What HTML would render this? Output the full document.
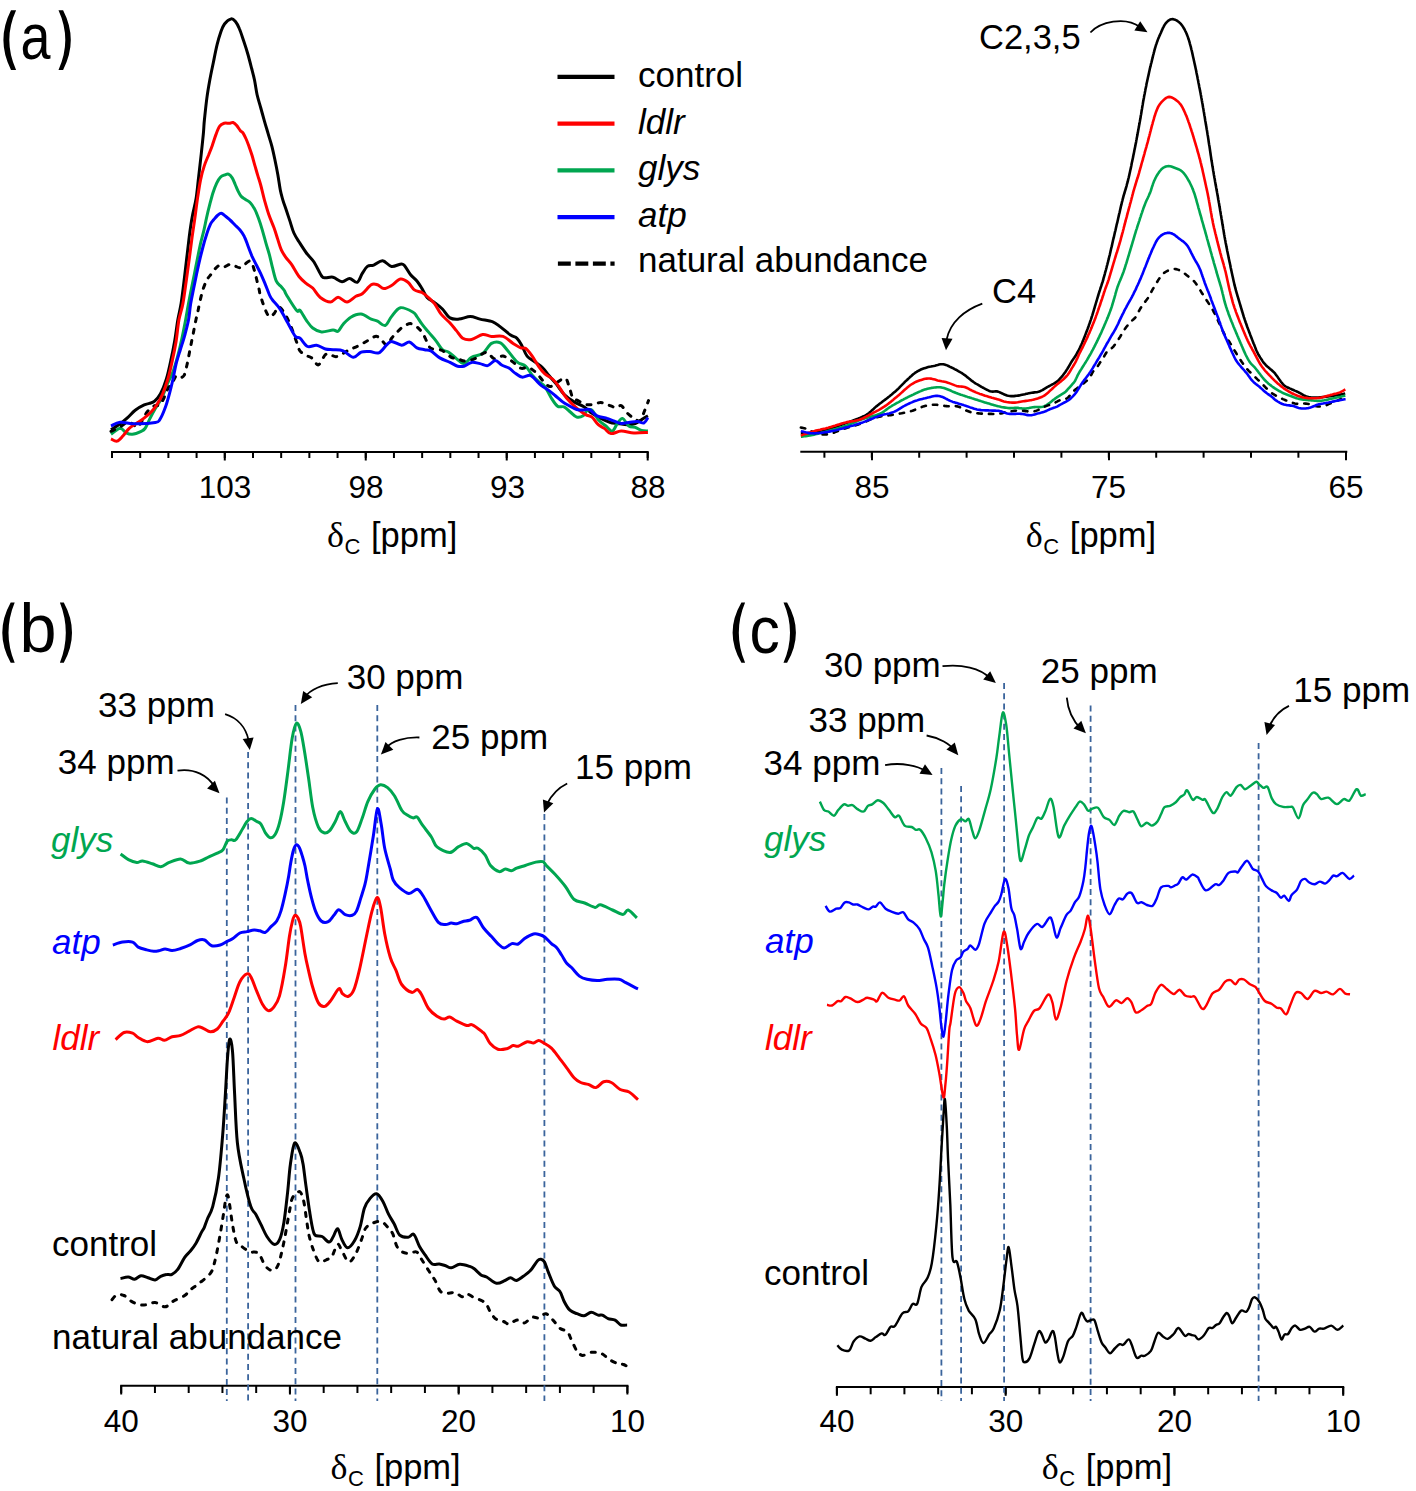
<!DOCTYPE html>
<html><head><meta charset="utf-8"><style>html,body{margin:0;padding:0;background:#fff;}svg{display:block;}</style></head>
<body><svg width="1416" height="1491" viewBox="0 0 1416 1491"><path d="M11,10.2 Q-4.20,40.05 11,69.9 L16.1,69.9 Q2.50,40.05 16.1,10.2 Z M58.5,10.2 Q72.10,40.05 58.5,69.9 L63.1,69.9 Q78.50,40.05 63.1,10.2 Z" fill="#000"/>
<text x="20.6" y="59" font-size="65.5" font-family='"Liberation Sans", sans-serif' text-anchor="start" fill="#000" textLength="30" lengthAdjust="spacingAndGlyphs">a</text>
<path d="M10.7,602.6 Q-6.10,632.70 10.7,662.8 L14.7,662.8 Q2.30,632.70 14.7,602.6 Z M59.9,602.6 Q71.70,632.70 59.9,662.8 L63.8,662.8 Q80.20,632.70 63.8,602.6 Z" fill="#000"/>
<text x="19.6" y="652.4" font-size="69" font-family='"Liberation Sans", sans-serif' text-anchor="start" fill="#000" textLength="37" lengthAdjust="spacingAndGlyphs">b</text>
<line x1="557.5" y1="76.8" x2="614.5" y2="76.8" stroke="#000000" stroke-width="4.3"/>
<text x="638" y="86.8" font-size="35" font-family='"Liberation Sans", sans-serif' text-anchor="start" fill="#000">control</text>
<line x1="557.5" y1="123.6" x2="614.5" y2="123.6" stroke="#ff0000" stroke-width="4.3"/>
<text x="638" y="133.6" font-size="35" font-family='"Liberation Sans", sans-serif' text-anchor="start" fill="#000" font-style="italic">ldlr</text>
<line x1="557.5" y1="170.4" x2="614.5" y2="170.4" stroke="#00a650" stroke-width="4.3"/>
<text x="638" y="180.39999999999998" font-size="35" font-family='"Liberation Sans", sans-serif' text-anchor="start" fill="#000" font-style="italic">glys</text>
<line x1="557.5" y1="217.2" x2="614.5" y2="217.2" stroke="#0000ff" stroke-width="4.3"/>
<text x="638" y="227.2" font-size="35" font-family='"Liberation Sans", sans-serif' text-anchor="start" fill="#000" font-style="italic">atp</text>
<line x1="557.9" y1="263.6" x2="614.6" y2="263.6" stroke="#000" stroke-width="4.3" stroke-dasharray="12.9,4.6"/>
<text x="638" y="272.40000000000003" font-size="35" font-family='"Liberation Sans", sans-serif' text-anchor="start" fill="#000">natural abundance</text>
<line x1="111" y1="452" x2="648.7" y2="452" stroke="#000" stroke-width="2"/>
<line x1="112.0" y1="452" x2="112.0" y2="458" stroke="#000" stroke-width="2"/>
<line x1="140.19473684210527" y1="452" x2="140.19473684210527" y2="458" stroke="#000" stroke-width="2"/>
<line x1="168.38947368421054" y1="452" x2="168.38947368421054" y2="458" stroke="#000" stroke-width="2"/>
<line x1="196.5842105263158" y1="452" x2="196.5842105263158" y2="458" stroke="#000" stroke-width="2"/>
<line x1="224.77894736842106" y1="452" x2="224.77894736842106" y2="458" stroke="#000" stroke-width="2"/>
<line x1="252.97368421052633" y1="452" x2="252.97368421052633" y2="458" stroke="#000" stroke-width="2"/>
<line x1="281.1684210526316" y1="452" x2="281.1684210526316" y2="458" stroke="#000" stroke-width="2"/>
<line x1="309.36315789473684" y1="452" x2="309.36315789473684" y2="458" stroke="#000" stroke-width="2"/>
<line x1="337.5578947368421" y1="452" x2="337.5578947368421" y2="458" stroke="#000" stroke-width="2"/>
<line x1="365.7526315789474" y1="452" x2="365.7526315789474" y2="458" stroke="#000" stroke-width="2"/>
<line x1="393.94736842105266" y1="452" x2="393.94736842105266" y2="458" stroke="#000" stroke-width="2"/>
<line x1="422.14210526315793" y1="452" x2="422.14210526315793" y2="458" stroke="#000" stroke-width="2"/>
<line x1="450.33684210526314" y1="452" x2="450.33684210526314" y2="458" stroke="#000" stroke-width="2"/>
<line x1="478.5315789473684" y1="452" x2="478.5315789473684" y2="458" stroke="#000" stroke-width="2"/>
<line x1="506.7263157894737" y1="452" x2="506.7263157894737" y2="458" stroke="#000" stroke-width="2"/>
<line x1="534.921052631579" y1="452" x2="534.921052631579" y2="458" stroke="#000" stroke-width="2"/>
<line x1="563.1157894736842" y1="452" x2="563.1157894736842" y2="458" stroke="#000" stroke-width="2"/>
<line x1="591.3105263157895" y1="452" x2="591.3105263157895" y2="458" stroke="#000" stroke-width="2"/>
<line x1="619.5052631578948" y1="452" x2="619.5052631578948" y2="458" stroke="#000" stroke-width="2"/>
<line x1="647.7" y1="452" x2="647.7" y2="458" stroke="#000" stroke-width="2"/>
<line x1="224.77894736842106" y1="452" x2="224.77894736842106" y2="460.5" stroke="#000" stroke-width="2"/>
<line x1="365.7526315789474" y1="452" x2="365.7526315789474" y2="460.5" stroke="#000" stroke-width="2"/>
<line x1="506.7263157894737" y1="452" x2="506.7263157894737" y2="460.5" stroke="#000" stroke-width="2"/>
<line x1="647.7" y1="452" x2="647.7" y2="460.5" stroke="#000" stroke-width="2"/>
<text x="225" y="498" font-size="31.5" font-family='"Liberation Sans", sans-serif' text-anchor="middle" fill="#000">103</text>
<text x="366" y="498" font-size="31.5" font-family='"Liberation Sans", sans-serif' text-anchor="middle" fill="#000">98</text>
<text x="507.5" y="498" font-size="31.5" font-family='"Liberation Sans", sans-serif' text-anchor="middle" fill="#000">93</text>
<text x="648" y="498" font-size="31.5" font-family='"Liberation Sans", sans-serif' text-anchor="middle" fill="#000">88</text>
<text x="327" y="546.6" font-size="36" font-family='"Liberation Serif", serif' fill="#000">&#948;</text>
<text x="344.5" y="553.6" font-size="22" font-family='"Liberation Sans", sans-serif' fill="#000">C</text>
<text x="371" y="546.6" font-size="34.5" font-family='"Liberation Sans", sans-serif' fill="#000">[ppm]</text>
<path d="M111.0,429.8 C112.5,428.8 117.3,425.8 120.1,423.8 C122.9,421.8 125.1,420.0 127.6,417.7 C130.1,415.4 132.4,412.3 135.2,410.2 C138.0,408.1 141.8,406.0 144.2,404.9 C146.6,403.8 147.7,404.0 149.4,403.4 C151.1,402.8 152.8,402.8 154.6,401.2 C156.4,399.6 158.5,397.5 160.5,393.8 C162.5,390.1 164.7,384.5 166.4,379.0 C168.1,373.5 169.5,366.8 170.8,360.6 C172.2,354.5 173.3,348.9 174.5,342.1 C175.7,335.3 176.7,326.4 177.8,320.0 C178.9,313.6 180.1,310.0 181.1,303.6 C182.1,297.2 183.1,288.8 184.0,281.4 C184.9,274.0 185.7,266.7 186.6,259.3 C187.5,251.9 188.3,244.2 189.2,237.1 C190.1,230.0 191.0,223.4 192.2,217.0 C193.3,210.6 195.0,205.4 196.1,198.6 C197.2,191.8 197.8,183.8 198.7,176.4 C199.5,169.0 200.4,161.7 201.2,154.3 C202.0,146.9 203.0,137.8 203.5,132.1 C204.0,126.4 203.8,125.6 204.4,120.0 C205.0,114.4 205.9,105.2 206.8,98.6 C207.7,91.9 208.7,86.2 209.8,80.1 C210.9,73.9 212.3,67.6 213.5,61.7 C214.7,55.8 215.9,49.6 217.1,44.7 C218.3,39.8 219.6,35.6 220.8,32.1 C222.0,28.7 222.8,26.2 224.5,24.0 C226.2,21.8 229.3,19.3 231.2,18.9 C233.0,18.5 234.2,20.2 235.6,21.8 C236.9,23.4 238.0,25.3 239.3,28.5 C240.7,31.7 242.2,36.6 243.7,41.0 C245.2,45.4 246.8,50.3 248.1,55.0 C249.4,59.7 250.7,64.8 251.8,69.0 C252.9,73.2 253.6,75.7 254.5,80.0 C255.4,84.3 256.1,90.1 257.1,94.8 C258.2,99.5 259.6,103.6 260.8,108.0 C262.0,112.4 263.3,117.0 264.5,121.3 C265.7,125.6 267.0,129.7 268.2,133.9 C269.4,138.1 270.8,142.1 271.9,146.4 C273.0,150.7 273.9,155.0 274.9,159.7 C275.9,164.4 276.9,169.4 277.8,174.5 C278.7,179.6 279.5,185.8 280.3,190.0 C281.1,194.2 281.8,196.3 282.8,199.8 C283.8,203.3 285.3,207.1 286.5,210.8 C287.7,214.5 289.0,218.2 290.2,221.9 C291.4,225.6 292.4,229.7 293.9,233.0 C295.4,236.3 296.9,238.5 299.0,241.8 C301.1,245.1 303.9,249.6 306.4,253.0 C308.9,256.4 311.5,258.2 314.0,262.0 C316.5,265.8 319.7,273.4 321.6,276.0 C323.5,278.6 323.5,277.6 325.4,277.8 C327.3,278.0 330.2,276.6 333.0,277.2 C335.8,277.8 339.2,281.5 342.0,281.7 C344.8,281.9 347.1,278.4 349.6,278.5 C352.1,278.6 355.1,283.2 357.2,282.3 C359.3,281.4 360.6,276.0 362.3,273.4 C364.0,270.8 365.5,267.8 367.4,266.4 C369.3,265.0 371.2,266.1 373.7,265.1 C376.2,264.2 379.6,260.5 382.6,260.7 C385.6,260.9 388.3,265.9 391.5,266.4 C394.7,266.9 399.4,263.8 401.7,263.9 C404.0,264.0 404.0,265.2 405.5,267.0 C407.0,268.8 408.7,272.4 410.6,274.7 C412.5,277.0 415.0,278.7 416.9,281.0 C418.8,283.3 420.3,285.9 422.0,288.6 C423.7,291.4 425.0,295.2 427.1,297.5 C429.2,299.8 432.1,300.7 434.7,302.6 C437.2,304.5 439.8,306.4 442.4,309.0 C444.9,311.6 447.2,316.2 450.0,317.9 C452.8,319.6 455.5,319.3 458.9,319.1 C462.3,318.9 466.8,316.6 470.3,316.6 C473.8,316.6 476.2,318.2 480.0,319.1 C483.8,320.0 489.4,320.5 492.8,321.8 C496.2,323.1 497.4,324.7 500.4,326.9 C503.4,329.1 507.8,333.2 510.6,335.1 C513.4,337.0 515.1,336.5 517.0,338.3 C518.9,340.1 520.3,342.9 522.0,345.9 C523.7,348.9 525.0,353.5 527.1,356.1 C529.2,358.8 532.2,359.9 534.7,361.8 C537.2,363.7 540.1,365.3 542.4,367.5 C544.7,369.7 546.4,372.4 548.7,375.2 C551.0,378.0 553.9,380.9 556.4,384.1 C558.9,387.3 561.0,391.2 564.0,394.2 C567.0,397.2 570.7,399.8 574.1,401.9 C577.5,404.0 581.3,405.0 584.3,406.9 C587.3,408.8 589.2,411.4 592.0,413.3 C594.8,415.2 597.8,416.9 600.8,418.4 C603.8,419.9 606.9,421.3 609.7,422.2 C612.5,423.1 614.4,423.1 617.4,423.5 C620.4,423.9 624.5,424.7 627.5,424.7 C630.5,424.7 632.9,424.3 635.2,423.5 C637.5,422.7 639.4,421.0 641.5,419.7 C643.6,418.4 646.8,416.4 647.9,415.8" fill="none" stroke="#000000" stroke-width="3.0" stroke-linejoin="round"/>
<path d="M111.0,434.3 C112.5,433.3 117.6,428.6 120.1,428.3 C122.6,428.1 124.1,431.8 126.1,432.8 C128.1,433.8 129.7,434.6 132.2,434.3 C134.7,434.1 139.1,432.3 141.2,431.3 C143.3,430.3 143.6,430.4 145.0,428.5 C146.4,426.6 147.7,422.9 149.4,419.6 C151.1,416.3 153.2,412.3 155.3,408.6 C157.4,404.9 159.9,401.8 162.0,397.5 C164.1,393.2 166.1,387.0 167.9,382.7 C169.7,378.4 171.4,376.0 173.0,371.7 C174.6,367.4 176.0,362.4 177.5,356.9 C179.0,351.4 180.6,344.6 181.9,338.5 C183.2,332.4 184.5,325.8 185.6,320.0 C186.7,314.2 187.5,308.8 188.5,303.6 C189.5,298.4 190.4,293.7 191.4,288.8 C192.4,283.9 193.4,278.9 194.4,274.0 C195.4,269.1 196.3,264.2 197.3,259.3 C198.3,254.4 199.2,249.4 200.3,244.5 C201.4,239.6 203.0,234.2 204.0,229.8 C205.0,225.4 205.6,222.0 206.5,218.0 C207.4,214.0 208.3,210.1 209.4,205.9 C210.5,201.7 211.8,196.5 213.0,192.7 C214.2,188.9 215.5,185.7 216.7,183.1 C217.9,180.5 219.0,178.6 220.4,177.2 C221.8,175.8 223.6,175.4 224.9,174.9 C226.2,174.4 227.3,173.7 228.5,174.2 C229.7,174.7 231.1,176.2 232.2,177.9 C233.3,179.6 234.2,182.3 235.2,184.5 C236.2,186.7 237.1,189.2 238.1,191.2 C239.1,193.2 239.9,194.9 241.1,196.3 C242.3,197.7 244.0,198.4 245.5,199.5 C247.0,200.6 248.8,201.0 250.3,202.7 C251.9,204.3 253.4,206.8 254.8,209.4 C256.2,212.0 257.3,214.9 258.5,218.2 C259.7,221.5 260.9,225.2 262.1,229.3 C263.3,233.4 264.6,238.3 265.8,242.6 C267.0,246.9 268.4,250.9 269.5,255.1 C270.6,259.3 271.4,263.4 272.5,267.7 C273.6,272.0 274.8,277.8 276.2,280.9 C277.6,284.0 279.2,284.5 280.6,286.1 C282.0,287.7 283.3,289.0 284.3,290.5 C285.3,292.0 284.4,291.6 286.5,295.0 C288.6,298.4 294.4,308.1 296.7,310.6 C298.9,313.2 298.4,308.7 300.0,310.3 C301.6,311.9 304.3,317.4 306.4,320.4 C308.5,323.3 310.2,326.1 312.7,328.0 C315.2,329.9 318.2,331.6 321.6,331.9 C325.0,332.2 330.2,330.1 333.0,330.0 C335.8,329.9 336.4,332.2 338.1,331.2 C339.8,330.2 341.1,326.5 343.2,324.2 C345.3,321.9 347.8,318.9 350.8,317.2 C353.8,315.5 357.6,313.8 361.0,314.1 C364.4,314.4 368.4,317.9 371.2,319.1 C373.9,320.3 375.2,320.0 377.5,321.1 C379.8,322.2 382.9,326.2 385.2,325.5 C387.5,324.8 389.0,319.6 391.5,316.6 C394.0,313.6 396.8,308.4 400.4,307.7 C404.0,307.0 410.4,310.7 413.1,312.2 C415.9,313.7 415.4,314.6 416.9,316.6 C418.4,318.6 420.1,321.6 422.0,324.2 C423.9,326.8 426.1,329.1 428.4,331.9 C430.7,334.7 433.7,337.8 436.0,340.8 C438.3,343.8 440.3,347.8 442.4,349.7 C444.5,351.6 446.4,350.7 448.7,352.2 C451.0,353.7 453.8,356.7 456.4,358.6 C458.9,360.5 461.5,363.8 464.0,363.6 C466.5,363.4 468.5,359.0 471.6,357.3 C474.7,355.6 479.3,355.9 482.6,353.6 C485.9,351.3 488.5,345.2 491.5,343.4 C494.5,341.6 497.6,341.5 500.4,342.8 C503.1,344.1 505.2,347.8 508.0,351.0 C510.8,354.2 514.0,359.2 517.0,361.8 C520.0,364.4 523.3,364.1 525.8,366.3 C528.3,368.5 530.1,372.7 532.2,375.2 C534.3,377.7 536.5,379.6 538.6,381.5 C540.7,383.4 542.8,383.9 544.9,386.6 C547.0,389.4 549.2,394.7 551.3,398.0 C553.4,401.3 555.5,404.8 557.6,406.3 C559.7,407.8 561.9,405.9 564.0,406.9 C566.1,407.8 568.2,410.3 570.3,412.0 C572.4,413.7 574.6,416.5 576.7,417.1 C578.8,417.7 581.4,416.9 583.1,415.8 C584.8,414.8 585.4,411.8 586.9,410.8 C588.4,409.9 590.1,408.6 592.0,410.1 C593.9,411.6 596.0,417.1 598.3,419.7 C600.6,422.3 603.6,424.1 605.9,426.0 C608.2,427.9 610.4,431.5 612.3,431.1 C614.2,430.7 615.7,425.6 617.4,423.5 C619.1,421.4 620.6,418.0 622.5,418.4 C624.4,418.8 626.7,424.5 628.8,426.0 C630.9,427.5 633.1,426.6 635.2,427.3 C637.3,428.1 639.4,429.9 641.5,430.5 C643.6,431.1 646.8,431.0 647.9,431.1" fill="none" stroke="#00a650" stroke-width="3.0" stroke-linejoin="round"/>
<path d="M111.0,431.3 C112.5,430.6 117.3,428.3 120.1,426.8 C122.9,425.3 125.4,422.8 127.6,422.3 C129.8,421.8 131.2,423.2 133.0,424.0 C134.8,424.8 135.8,428.9 138.2,426.8 C140.6,424.8 144.5,415.2 147.3,411.7 C150.1,408.2 152.7,406.8 154.8,405.7 C156.9,404.6 158.2,406.3 159.8,404.9 C161.4,403.5 162.8,400.2 164.2,397.5 C165.5,394.8 166.6,391.1 167.9,388.6 C169.2,386.1 171.0,384.8 172.3,382.7 C173.7,380.6 174.8,377.0 176.0,376.1 C177.2,375.2 178.3,377.7 179.7,377.6 C181.0,377.5 182.9,377.6 184.1,375.4 C185.3,373.2 186.2,368.0 187.1,364.3 C188.0,360.6 188.6,356.9 189.3,353.2 C190.0,349.5 190.8,345.8 191.5,342.1 C192.2,338.4 193.0,334.8 193.7,331.1 C194.4,327.4 195.2,323.4 195.9,320.0 C196.6,316.6 197.3,314.2 198.0,310.9 C198.7,307.5 199.4,303.6 200.3,299.9 C201.2,296.2 202.1,292.1 203.2,288.8 C204.3,285.5 205.6,282.4 206.9,279.9 C208.2,277.4 209.8,276.0 211.3,274.0 C212.8,272.0 214.3,269.6 215.8,268.1 C217.3,266.6 218.7,265.4 220.2,265.2 C221.7,265.0 223.0,266.8 224.6,266.7 C226.2,266.6 228.3,264.5 230.0,264.4 C231.7,264.3 233.3,265.4 235.0,266.0 C236.7,266.6 238.4,267.9 240.0,267.7 C241.6,267.5 242.8,265.8 244.4,264.7 C246.0,263.6 248.2,261.0 249.6,261.0 C250.9,261.0 251.6,262.8 252.5,264.7 C253.4,266.6 254.1,269.4 254.8,272.1 C255.6,274.8 256.3,277.9 257.0,280.9 C257.7,283.8 258.6,287.4 259.2,289.8 C259.8,292.2 259.3,291.8 260.3,295.0 C261.3,298.2 263.5,305.5 265.0,309.1 C266.5,312.7 268.0,315.9 269.5,316.6 C271.0,317.4 272.6,315.2 274.1,313.6 C275.6,312.0 276.9,306.8 278.6,306.8 C280.4,306.8 282.6,310.5 284.6,313.6 C286.6,316.8 288.7,320.9 290.7,325.7 C292.7,330.5 295.1,338.1 296.7,342.3 C298.2,346.5 298.4,348.7 300.0,350.9 C301.6,353.1 304.3,354.1 306.4,355.4 C308.5,356.7 310.7,357.0 312.7,358.6 C314.7,360.2 316.3,365.5 318.4,364.9 C320.5,364.2 323.4,356.4 325.4,354.7 C327.4,353.0 328.6,354.4 330.5,354.7 C332.4,355.0 333.9,357.3 336.9,356.6 C339.9,355.9 344.7,352.1 348.3,350.3 C351.9,348.5 355.1,347.5 358.5,345.8 C361.9,344.1 365.6,341.7 368.6,340.1 C371.6,338.5 374.1,336.2 376.3,336.3 C378.6,336.4 380.3,339.4 382.1,340.9 C383.9,342.3 385.4,345.5 387.0,345.0 C388.6,344.5 390.2,340.1 391.8,338.0 C393.4,335.9 394.9,334.3 396.8,332.4 C398.7,330.5 400.7,328.3 403.0,326.8 C405.3,325.3 408.1,323.4 410.6,323.6 C413.1,323.8 416.1,326.2 418.2,328.0 C420.3,329.8 421.8,332.1 423.3,334.4 C424.8,336.7 425.8,339.7 427.1,342.0 C428.4,344.3 428.8,347.1 430.9,348.4 C433.0,349.7 437.5,349.1 439.8,349.7 C442.1,350.3 443.0,350.9 444.9,352.2 C446.8,353.5 449.2,356.2 451.3,357.3 C453.4,358.4 455.3,358.0 457.6,358.6 C459.9,359.2 462.3,361.1 465.2,361.1 C468.1,361.1 471.5,360.1 475.0,358.6 C478.5,357.1 483.2,352.3 486.4,352.3 C489.6,352.3 491.3,358.0 494.1,358.6 C496.9,359.2 500.0,355.7 503.0,356.1 C506.0,356.5 508.9,359.2 511.9,361.2 C514.9,363.2 518.0,367.1 520.8,368.2 C523.5,369.2 525.9,366.8 528.4,367.5 C530.9,368.2 533.5,370.3 536.0,372.6 C538.5,374.9 541.3,379.2 543.6,381.5 C545.9,383.8 547.9,386.4 550.0,386.6 C552.1,386.8 553.9,384.2 556.4,382.8 C558.9,381.4 563.1,377.7 565.2,378.3 C567.3,378.9 567.8,383.3 569.1,386.6 C570.4,389.9 571.4,395.7 572.9,398.0 C574.4,400.3 575.9,399.5 578.0,400.6 C580.1,401.7 583.1,403.8 585.6,404.4 C588.1,405.0 590.7,404.7 593.2,404.4 C595.7,404.1 598.2,402.4 600.8,402.5 C603.3,402.6 606.0,404.1 608.5,405.0 C611.0,405.9 614.0,407.5 616.1,407.6 C618.2,407.7 619.3,404.8 621.2,405.7 C623.1,406.6 625.4,411.2 627.5,413.3 C629.6,415.4 631.8,417.1 633.9,418.4 C636.0,419.7 638.5,422.0 640.2,420.9 C641.9,419.8 642.7,415.4 644.1,412.0 C645.5,408.6 647.8,402.5 648.5,400.6" fill="none" stroke="#000000" stroke-width="3.0" stroke-linejoin="round" stroke-dasharray="4.00,7.50" stroke-linecap="round"/>
<path d="M111.0,438.9 C112.0,439.3 115.1,441.6 117.1,441.1 C119.1,440.6 121.1,437.9 123.1,435.8 C125.1,433.7 126.7,430.6 129.2,428.3 C131.7,426.1 135.6,424.1 138.2,422.3 C140.8,420.5 142.9,419.1 145.0,417.4 C147.1,415.7 148.9,414.4 150.9,412.3 C152.9,410.2 154.8,408.0 156.8,404.9 C158.8,401.8 160.8,398.1 162.7,393.8 C164.5,389.5 166.3,384.5 167.9,379.0 C169.5,373.5 171.0,366.8 172.3,360.6 C173.7,354.5 174.9,348.9 176.0,342.1 C177.1,335.3 177.8,326.4 178.9,320.0 C180.1,313.6 181.7,310.0 182.9,303.6 C184.1,297.2 185.1,288.8 186.2,281.4 C187.2,274.0 188.2,266.7 189.2,259.3 C190.2,251.9 191.2,243.7 192.1,237.1 C193.0,230.5 193.7,226.4 194.6,220.0 C195.5,213.6 196.5,205.2 197.5,198.6 C198.5,191.9 199.4,185.5 200.5,180.1 C201.6,174.7 202.8,170.3 204.2,166.1 C205.5,161.9 207.2,158.4 208.6,155.0 C209.9,151.6 211.1,148.8 212.3,145.4 C213.5,142.0 214.8,137.6 216.0,134.4 C217.2,131.2 218.3,128.1 219.7,126.2 C221.0,124.3 222.5,123.8 224.1,123.3 C225.7,122.8 227.8,123.4 229.3,123.3 C230.8,123.2 231.8,122.1 233.0,122.5 C234.2,122.9 235.5,124.1 236.7,125.5 C237.9,126.9 239.3,129.4 240.4,130.7 C241.5,132.0 242.2,131.7 243.1,133.1 C244.0,134.5 245.1,136.8 246.1,139.0 C247.1,141.2 248.0,143.7 249.0,146.4 C250.0,149.1 251.0,152.1 252.0,155.3 C253.0,158.5 253.9,162.2 254.9,165.6 C255.9,169.0 256.9,172.7 257.9,175.9 C258.9,179.1 259.6,181.0 260.7,185.0 C261.8,189.0 263.0,194.9 264.4,199.8 C265.8,204.7 267.2,209.8 268.8,214.5 C270.4,219.2 272.5,223.7 274.0,227.8 C275.5,231.9 276.4,235.2 277.6,238.9 C278.8,242.6 279.9,246.8 281.3,249.9 C282.7,253.0 284.1,254.8 285.8,257.3 C287.5,259.8 289.5,261.5 291.7,264.7 C293.9,267.9 296.6,273.4 299.0,276.5 C301.4,279.6 304.1,281.7 306.4,283.6 C308.7,285.5 310.4,285.7 312.7,288.0 C315.0,290.3 317.3,295.2 320.3,297.5 C323.3,299.8 327.5,302.0 330.5,302.0 C333.5,302.0 335.4,297.3 338.1,297.3 C340.9,297.3 344.0,302.2 347.0,302.0 C350.0,301.8 353.3,297.7 355.9,296.3 C358.4,294.9 359.8,295.6 362.3,293.7 C364.9,291.8 368.7,286.3 371.2,284.8 C373.7,283.3 375.4,284.2 377.5,284.8 C379.6,285.4 381.6,288.5 383.9,288.6 C386.2,288.7 388.8,287.1 391.5,285.5 C394.2,283.9 397.6,279.6 400.4,279.1 C403.1,278.6 405.7,280.5 408.0,282.3 C410.3,284.1 412.1,288.2 414.4,289.9 C416.7,291.6 419.7,291.2 422.0,292.5 C424.3,293.8 426.3,295.6 428.4,297.5 C430.5,299.4 432.6,301.1 434.7,303.9 C436.8,306.7 438.6,310.9 441.1,314.1 C443.7,317.3 447.4,320.2 450.0,323.0 C452.6,325.8 454.3,328.1 456.4,330.6 C458.5,333.1 460.2,336.7 462.7,338.2 C465.2,339.7 468.3,340.1 471.6,339.5 C474.9,338.9 479.3,335.0 482.6,334.5 C485.9,334.0 488.1,336.1 491.5,336.4 C494.9,336.7 499.4,335.2 503.0,336.4 C506.6,337.6 510.1,341.5 513.1,343.4 C516.1,345.3 518.7,346.9 520.8,347.8 C522.9,348.7 523.9,347.1 525.8,348.5 C527.7,349.9 530.1,353.1 532.2,356.1 C534.3,359.1 536.5,363.3 538.6,366.3 C540.7,369.3 542.6,371.8 544.9,373.9 C547.2,376.0 550.2,376.9 552.5,379.0 C554.8,381.1 556.6,383.4 558.9,386.6 C561.2,389.8 563.5,394.4 566.5,398.0 C569.5,401.6 573.5,405.4 576.7,408.2 C579.9,411.0 583.1,413.1 585.6,414.6 C588.1,416.1 589.9,415.4 592.0,417.1 C594.1,418.8 596.2,422.8 598.3,424.7 C600.4,426.6 602.6,427.1 604.7,428.6 C606.8,430.1 608.2,433.2 611.0,433.6 C613.8,434.0 617.4,431.2 621.2,431.1 C625.0,431.0 629.5,432.8 633.9,433.0 C638.3,433.2 645.6,432.5 647.9,432.4" fill="none" stroke="#ff0000" stroke-width="3.0" stroke-linejoin="round"/>
<path d="M111.0,426.0 C112.5,425.4 116.1,422.7 120.1,422.3 C124.1,421.9 129.3,423.8 135.2,423.8 C141.1,423.9 151.2,423.3 155.3,422.6 C159.4,421.9 158.2,421.9 159.8,419.6 C161.4,417.3 163.3,412.9 164.9,408.6 C166.5,404.3 168.1,398.7 169.4,393.8 C170.8,388.9 171.9,383.9 173.0,379.0 C174.1,374.1 174.8,369.2 176.0,364.3 C177.2,359.4 178.9,354.4 180.4,349.5 C181.9,344.6 183.6,339.7 184.9,334.8 C186.2,329.9 187.5,325.2 188.5,320.0 C189.5,314.8 189.8,308.8 190.7,303.6 C191.5,298.4 192.6,293.7 193.6,288.8 C194.6,283.9 195.6,278.7 196.6,274.0 C197.6,269.3 198.4,265.5 199.5,260.8 C200.6,256.1 202.0,250.6 203.2,246.0 C204.4,241.4 205.7,237.2 206.9,233.5 C208.1,229.8 209.5,226.2 210.6,223.9 C211.7,221.6 212.4,221.2 213.6,219.8 C214.8,218.4 216.2,216.6 217.5,215.5 C218.8,214.4 219.8,213.2 221.2,213.3 C222.5,213.4 224.1,215.2 225.6,216.3 C227.1,217.4 228.4,218.6 230.0,220.0 C231.6,221.4 233.3,223.3 235.0,225.0 C236.7,226.7 238.4,228.1 240.0,230.0 C241.6,231.9 243.1,234.0 244.4,236.7 C245.8,239.4 246.9,243.1 248.1,246.3 C249.3,249.5 250.5,252.7 251.8,255.8 C253.2,258.9 254.7,261.7 256.2,264.7 C257.7,267.7 259.2,270.4 260.7,273.6 C262.2,276.8 263.6,280.3 265.1,283.9 C266.6,287.5 268.3,292.3 269.5,295.0 C270.7,297.7 270.7,297.6 272.5,300.0 C274.3,302.4 277.6,305.3 280.1,309.1 C282.6,312.9 285.1,318.1 287.6,322.6 C290.1,327.1 293.1,333.6 295.2,336.2 C297.3,338.8 297.9,336.5 300.0,338.2 C302.1,339.9 304.9,345.3 307.6,346.5 C310.4,347.7 313.5,344.8 316.5,345.2 C319.5,345.6 322.6,348.2 325.4,349.0 C328.1,349.8 330.0,349.4 333.0,349.7 C336.0,350.0 339.8,349.6 343.2,350.9 C346.6,352.2 350.4,357.1 353.4,357.3 C356.4,357.5 358.2,353.1 361.0,352.2 C363.8,351.2 366.9,351.5 369.9,351.6 C372.9,351.7 376.1,353.9 378.8,352.8 C381.6,351.7 384.3,347.1 386.4,345.2 C388.5,343.3 388.9,341.4 391.5,341.4 C394.1,341.4 398.7,345.1 401.7,345.2 C404.7,345.3 406.8,341.6 409.3,342.0 C411.8,342.4 414.3,346.5 416.9,347.8 C419.4,349.1 422.3,349.2 424.6,349.7 C426.9,350.2 428.4,349.5 430.9,350.9 C433.4,352.3 436.6,356.0 439.8,357.9 C443.0,359.8 447.0,361.0 450.0,362.4 C453.0,363.8 455.3,365.6 457.6,366.2 C459.9,366.8 461.7,366.8 464.0,366.2 C466.3,365.6 468.9,362.8 471.6,362.4 C474.3,362.0 477.3,363.1 480.0,363.6 C482.7,364.1 485.1,366.1 487.7,365.6 C490.2,365.1 493.0,360.6 495.3,360.5 C497.6,360.4 499.4,363.7 501.7,365.0 C504.0,366.3 507.2,366.9 509.3,368.2 C511.4,369.5 512.3,371.1 514.4,372.6 C516.5,374.1 519.5,376.7 522.0,377.1 C524.5,377.5 527.6,374.9 529.7,375.2 C531.8,375.5 532.8,377.3 534.7,379.0 C536.6,380.7 538.8,383.4 541.1,385.3 C543.4,387.2 546.4,388.7 548.7,390.4 C551.0,392.1 552.8,393.6 555.1,395.5 C557.4,397.4 560.4,400.2 562.7,401.9 C565.0,403.6 566.8,404.4 569.1,405.7 C571.4,407.0 574.4,408.8 576.7,409.5 C579.0,410.2 581.0,410.1 583.1,410.1 C585.2,410.1 587.1,408.6 589.4,409.5 C591.7,410.4 594.0,414.3 597.0,415.8 C600.0,417.3 604.4,417.5 607.2,418.4 C610.0,419.2 611.3,420.0 613.6,420.9 C615.9,421.8 618.5,423.3 621.2,423.5 C624.0,423.7 627.4,422.5 630.1,422.2 C632.9,421.9 635.4,421.5 637.7,421.6 C640.0,421.7 642.4,423.5 644.1,422.8 C645.8,422.1 647.3,418.6 647.9,417.7" fill="none" stroke="#0000ff" stroke-width="3.0" stroke-linejoin="round"/>
<line x1="800.3" y1="451.7" x2="1347.3" y2="451.7" stroke="#000" stroke-width="2"/>
<line x1="824.4" y1="451.7" x2="824.4" y2="457.7" stroke="#000" stroke-width="2"/>
<line x1="871.8" y1="451.7" x2="871.8" y2="457.7" stroke="#000" stroke-width="2"/>
<line x1="919.1999999999999" y1="451.7" x2="919.1999999999999" y2="457.7" stroke="#000" stroke-width="2"/>
<line x1="966.5999999999999" y1="451.7" x2="966.5999999999999" y2="457.7" stroke="#000" stroke-width="2"/>
<line x1="1014.0" y1="451.7" x2="1014.0" y2="457.7" stroke="#000" stroke-width="2"/>
<line x1="1061.4" y1="451.7" x2="1061.4" y2="457.7" stroke="#000" stroke-width="2"/>
<line x1="1108.8" y1="451.7" x2="1108.8" y2="457.7" stroke="#000" stroke-width="2"/>
<line x1="1156.2" y1="451.7" x2="1156.2" y2="457.7" stroke="#000" stroke-width="2"/>
<line x1="1203.6" y1="451.7" x2="1203.6" y2="457.7" stroke="#000" stroke-width="2"/>
<line x1="1251.0" y1="451.7" x2="1251.0" y2="457.7" stroke="#000" stroke-width="2"/>
<line x1="1298.4" y1="451.7" x2="1298.4" y2="457.7" stroke="#000" stroke-width="2"/>
<line x1="872" y1="451.7" x2="872" y2="460.2" stroke="#000" stroke-width="2"/>
<line x1="1109.0" y1="451.7" x2="1109.0" y2="460.2" stroke="#000" stroke-width="2"/>
<line x1="1346.0" y1="451.7" x2="1346.0" y2="460.2" stroke="#000" stroke-width="2"/>
<text x="872" y="498" font-size="31.5" font-family='"Liberation Sans", sans-serif' text-anchor="middle" fill="#000">85</text>
<text x="1108.5" y="498" font-size="31.5" font-family='"Liberation Sans", sans-serif' text-anchor="middle" fill="#000">75</text>
<text x="1346" y="498" font-size="31.5" font-family='"Liberation Sans", sans-serif' text-anchor="middle" fill="#000">65</text>
<text x="1025.8" y="546.6" font-size="36" font-family='"Liberation Serif", serif' fill="#000">&#948;</text>
<text x="1043.3" y="553.6" font-size="22" font-family='"Liberation Sans", sans-serif' fill="#000">C</text>
<text x="1069.8" y="546.6" font-size="34.5" font-family='"Liberation Sans", sans-serif' fill="#000">[ppm]</text>
<text x="979" y="48.7" font-size="34.5" font-family='"Liberation Sans", sans-serif' text-anchor="start" fill="#000">C2,3,5</text>
<text x="992" y="303.2" font-size="34.5" font-family='"Liberation Sans", sans-serif' text-anchor="start" fill="#000">C4</text>
<path d="M1090.4,32.5 C1100,22 1125,16 1140,27" fill="none" stroke="#000" stroke-width="1.8"/>
<path d="M1147.5,32.3 L1134.4,30.6 L1140.2,21.3 Z" fill="#000"/>
<path d="M982.3,303.7 C965,310 950,322 946.5,340" fill="none" stroke="#000" stroke-width="1.8"/>
<path d="M946.0,350.3 L941.6,337.9 L952.5,338.8 Z" fill="#000"/>
<path d="M800.9,432.6 L801.8,432.7 L802.9,432.9 L804.3,433.1 L805.6,433.2 L807.0,433.4 L808.4,433.4 L809.8,433.5 L811.2,433.4 L812.6,433.3 L814.0,433.1 L815.4,432.8 L816.7,432.5 L818.1,432.2 L819.5,431.9 L820.8,431.5 L822.2,431.2 L823.5,430.8 L824.9,430.4 L826.2,430.0 L827.6,429.6 L828.9,429.2 L830.2,428.8 L831.6,428.3 L832.9,427.9 L834.2,427.4 L835.5,427.0 L836.8,426.5 L838.2,426.0 L839.5,425.5 L840.8,425.1 L842.1,424.6 L843.4,424.1 L844.7,423.6 L846.0,423.1 L847.4,422.6 L848.7,422.2 L850.0,421.7 L851.3,421.2 L852.6,420.7 L853.9,420.2 L855.2,419.7 L856.5,419.2 L857.9,418.7 L859.1,418.2 L860.4,417.7 L861.7,417.1 L863.0,416.5 L864.3,415.9 L865.5,415.3 L866.7,414.6 L867.9,413.8 L869.0,413.0 L870.1,412.1 L871.1,411.2 L872.1,410.2 L873.2,409.3 L874.2,408.3 L875.2,407.4 L876.3,406.4 L877.4,405.6 L878.5,404.7 L879.6,403.8 L880.7,403.0 L881.8,402.2 L882.9,401.3 L884.0,400.5 L885.2,399.6 L886.3,398.8 L887.4,397.9 L888.5,397.0 L889.6,396.2 L890.7,395.3 L891.8,394.4 L892.8,393.5 L893.9,392.6 L895.0,391.7 L896.0,390.8 L897.0,389.8 L898.1,388.9 L899.1,387.9 L900.0,386.9 L901.0,385.9 L902.0,384.9 L903.0,383.9 L904.0,382.9 L904.9,381.9 L905.9,380.9 L907.0,380.0 L908.0,379.0 L909.0,378.1 L910.0,377.1 L911.1,376.2 L912.1,375.3 L913.2,374.3 L914.3,373.5 L915.4,372.6 L916.6,371.9 L917.8,371.1 L919.0,370.5 L920.3,369.8 L921.5,369.3 L922.8,368.8 L924.2,368.3 L925.5,367.9 L926.8,367.5 L928.2,367.1 L929.5,366.7 L930.9,366.5 L932.3,366.2 L933.6,366.0 L935.0,365.7 L936.4,365.3 L937.7,365.0 L939.1,364.6 L940.4,364.3 L941.8,364.2 L943.1,364.2 L944.5,364.5 L945.8,364.9 L947.1,365.4 L948.4,366.0 L949.6,366.6 L950.9,367.2 L952.1,367.8 L953.4,368.4 L954.6,369.1 L955.9,369.7 L957.1,370.4 L958.3,371.1 L959.6,371.8 L960.8,372.5 L961.9,373.2 L963.1,374.0 L964.3,374.8 L965.4,375.6 L966.5,376.5 L967.6,377.4 L968.7,378.2 L969.7,379.1 L970.8,380.0 L971.9,380.9 L973.1,381.7 L974.2,382.5 L975.4,383.3 L976.6,384.0 L977.8,384.7 L979.0,385.4 L980.2,386.1 L981.4,386.8 L982.6,387.5 L983.9,388.2 L985.1,388.8 L986.3,389.5 L987.6,390.1 L988.8,390.7 L990.1,391.2 L991.4,391.5 L992.8,391.6 L994.1,391.5 L995.4,391.4 L996.7,391.4 L998.0,391.6 L999.3,392.1 L1000.6,392.7 L1001.8,393.3 L1003.1,393.9 L1004.4,394.5 L1005.7,395.0 L1007.0,395.5 L1008.3,395.8 L1009.7,396.0 L1011.1,396.1 L1012.5,396.1 L1013.9,396.1 L1015.3,395.9 L1016.7,395.8 L1018.1,395.6 L1019.4,395.4 L1020.8,395.1 L1022.2,394.8 L1023.5,394.5 L1024.9,394.2 L1026.3,393.8 L1027.6,393.6 L1029.0,393.3 L1030.4,393.0 L1031.8,392.8 L1033.1,392.6 L1034.5,392.4 L1035.9,392.3 L1037.3,392.1 L1038.6,391.8 L1040.0,391.3 L1041.2,390.7 L1042.4,390.1 L1043.6,389.3 L1044.8,388.6 L1046.0,387.9 L1047.2,387.2 L1048.4,386.5 L1049.7,385.8 L1050.9,385.2 L1052.1,384.5 L1053.4,383.9 L1054.6,383.2 L1055.8,382.4 L1056.9,381.6 L1058.0,380.7 L1059.0,379.8 L1059.9,378.7 L1060.9,377.7 L1061.8,376.6 L1062.7,375.6 L1063.5,374.5 L1064.4,373.3 L1065.2,372.2 L1066.0,371.0 L1066.7,369.9 L1067.5,368.7 L1068.2,367.5 L1068.9,366.3 L1069.6,365.1 L1070.3,363.9 L1071.0,362.7 L1071.7,361.5 L1072.5,360.3 L1073.3,359.1 L1074.1,358.0 L1074.9,356.8 L1075.6,355.7 L1076.4,354.5 L1077.0,353.2 L1077.7,352.0 L1078.3,350.8 L1079.0,349.5 L1079.6,348.3 L1080.2,347.0 L1080.8,345.7 L1081.4,344.5 L1082.0,343.2 L1082.5,341.9 L1083.1,340.6 L1083.6,339.3 L1084.1,338.0 L1084.6,336.7 L1085.1,335.4 L1085.6,334.1 L1086.1,332.8 L1086.6,331.5 L1087.1,330.2 L1087.6,328.9 L1088.1,327.5 L1088.6,326.2 L1089.0,324.9 L1089.5,323.6 L1090.0,322.3 L1090.4,320.9 L1090.9,319.6 L1091.3,318.3 L1091.7,317.0 L1092.2,315.6 L1092.6,314.3 L1093.0,312.9 L1093.4,311.6 L1093.8,310.3 L1094.2,308.9 L1094.6,307.6 L1095.0,306.2 L1095.4,304.9 L1095.8,303.5 L1096.2,302.2 L1096.6,300.9 L1097.0,299.5 L1097.4,298.2 L1097.8,296.8 L1098.2,295.5 L1098.6,294.2 L1099.0,292.8 L1099.4,291.5 L1099.9,290.2 L1100.3,288.8 L1100.7,287.5 L1101.2,286.2 L1101.6,284.8 L1102.0,283.5 L1102.5,282.2 L1102.9,280.8 L1103.3,279.5 L1103.6,278.1 L1104.0,276.8 L1104.4,275.4 L1104.8,274.1 L1105.1,272.7 L1105.5,271.4 L1105.9,270.0 L1106.2,268.7 L1106.6,267.3 L1106.9,266.0 L1107.3,264.6 L1107.6,263.3 L1108.0,261.9 L1108.3,260.6 L1108.7,259.2 L1109.0,257.8 L1109.3,256.5 L1109.7,255.1 L1110.0,253.8 L1110.3,252.4 L1110.6,251.0 L1110.9,249.7 L1111.2,248.3 L1111.6,246.9 L1111.9,245.6 L1112.2,244.2 L1112.5,242.8 L1112.8,241.5 L1113.1,240.1 L1113.4,238.8 L1113.8,237.4 L1114.1,236.0 L1114.4,234.7 L1114.7,233.3 L1115.0,231.9 L1115.4,230.6 L1115.7,229.2 L1116.0,227.8 L1116.3,226.5 L1116.6,225.1 L1116.9,223.8 L1117.3,222.4 L1117.6,221.0 L1117.9,219.7 L1118.2,218.3 L1118.5,216.9 L1118.8,215.6 L1119.1,214.2 L1119.5,212.8 L1119.8,211.5 L1120.1,210.1 L1120.4,208.7 L1120.7,207.4 L1121.0,206.0 L1121.4,204.7 L1121.7,203.3 L1122.0,201.9 L1122.4,200.6 L1122.7,199.2 L1123.1,197.9 L1123.4,196.5 L1123.8,195.2 L1124.2,193.8 L1124.6,192.5 L1125.0,191.1 L1125.4,189.8 L1125.8,188.5 L1126.2,187.1 L1126.6,185.8 L1126.9,184.4 L1127.3,183.1 L1127.7,181.7 L1128.0,180.4 L1128.3,179.0 L1128.7,177.6 L1129.0,176.3 L1129.3,174.9 L1129.6,173.5 L1129.9,172.2 L1130.2,170.8 L1130.5,169.4 L1130.8,168.1 L1131.1,166.7 L1131.4,165.3 L1131.6,164.0 L1131.9,162.6 L1132.2,161.2 L1132.5,159.8 L1132.8,158.5 L1133.1,157.1 L1133.3,155.7 L1133.6,154.4 L1133.9,153.0 L1134.2,151.6 L1134.4,150.2 L1134.7,148.9 L1135.0,147.5 L1135.3,146.1 L1135.5,144.7 L1135.8,143.4 L1136.1,142.0 L1136.3,140.6 L1136.6,139.2 L1136.8,137.9 L1137.1,136.5 L1137.4,135.1 L1137.6,133.7 L1137.9,132.4 L1138.1,131.0 L1138.4,129.6 L1138.6,128.2 L1138.9,126.9 L1139.1,125.5 L1139.4,124.1 L1139.6,122.7 L1139.9,121.3 L1140.1,120.0 L1140.4,118.6 L1140.6,117.2 L1140.8,115.8 L1141.1,114.4 L1141.3,113.1 L1141.5,111.7 L1141.7,110.3 L1142.0,108.9 L1142.2,107.5 L1142.4,106.2 L1142.7,104.8 L1142.9,103.4 L1143.1,102.0 L1143.4,100.6 L1143.6,99.3 L1143.9,97.9 L1144.1,96.5 L1144.4,95.1 L1144.7,93.8 L1144.9,92.4 L1145.2,91.0 L1145.4,89.6 L1145.7,88.3 L1146.0,86.9 L1146.3,85.5 L1146.5,84.1 L1146.8,82.8 L1147.1,81.4 L1147.4,80.0 L1147.7,78.7 L1148.0,77.3 L1148.3,75.9 L1148.6,74.6 L1148.9,73.2 L1149.2,71.8 L1149.5,70.5 L1149.8,69.1 L1150.1,67.7 L1150.5,66.4 L1150.8,65.0 L1151.1,63.6 L1151.5,62.3 L1151.8,60.9 L1152.1,59.6 L1152.5,58.2 L1152.8,56.9 L1153.1,55.5 L1153.5,54.1 L1153.8,52.8 L1154.2,51.4 L1154.5,50.1 L1154.9,48.7 L1155.3,47.4 L1155.7,46.0 L1156.1,44.7 L1156.6,43.4 L1157.0,42.1 L1157.5,40.7 L1158.0,39.4 L1158.5,38.1 L1159.1,36.8 L1159.6,35.6 L1160.2,34.3 L1160.8,33.0 L1161.3,31.7 L1161.9,30.4 L1162.4,29.2 L1163.0,27.9 L1163.7,26.6 L1164.3,25.4 L1165.1,24.2 L1165.9,23.1 L1166.8,22.1 L1167.8,21.1 L1168.9,20.3 L1170.1,19.6 L1171.4,19.2 L1172.7,19.1 L1174.0,19.4 L1175.3,19.8 L1176.5,20.4 L1177.7,21.2 L1178.8,22.0 L1179.8,22.9 L1180.8,23.9 L1181.7,25.0 L1182.5,26.1 L1183.3,27.3 L1184.0,28.5 L1184.7,29.7 L1185.3,31.0 L1185.9,32.2 L1186.5,33.5 L1187.0,34.8 L1187.5,36.1 L1188.0,37.4 L1188.4,38.8 L1188.9,40.1 L1189.3,41.4 L1189.7,42.8 L1190.0,44.1 L1190.4,45.5 L1190.8,46.8 L1191.1,48.2 L1191.4,49.5 L1191.8,50.9 L1192.1,52.3 L1192.4,53.6 L1192.7,55.0 L1193.0,56.4 L1193.3,57.7 L1193.6,59.1 L1193.9,60.5 L1194.2,61.8 L1194.5,63.2 L1194.8,64.6 L1195.1,65.9 L1195.4,67.3 L1195.7,68.7 L1196.0,70.0 L1196.3,71.4 L1196.5,72.8 L1196.8,74.2 L1197.1,75.5 L1197.4,76.9 L1197.6,78.3 L1197.9,79.7 L1198.2,81.0 L1198.4,82.4 L1198.7,83.8 L1199.0,85.1 L1199.2,86.5 L1199.5,87.9 L1199.8,89.3 L1200.0,90.6 L1200.3,92.0 L1200.6,93.4 L1200.8,94.8 L1201.1,96.1 L1201.3,97.5 L1201.6,98.9 L1201.8,100.3 L1202.1,101.7 L1202.3,103.0 L1202.6,104.4 L1202.8,105.8 L1203.0,107.2 L1203.3,108.6 L1203.5,109.9 L1203.7,111.3 L1204.0,112.7 L1204.2,114.1 L1204.4,115.5 L1204.7,116.8 L1204.9,118.2 L1205.1,119.6 L1205.3,121.0 L1205.6,122.4 L1205.8,123.7 L1206.0,125.1 L1206.3,126.5 L1206.5,127.9 L1206.7,129.3 L1207.0,130.6 L1207.2,132.0 L1207.4,133.4 L1207.6,134.8 L1207.9,136.2 L1208.1,137.6 L1208.3,138.9 L1208.5,140.3 L1208.7,141.7 L1208.9,143.1 L1209.1,144.5 L1209.4,145.9 L1209.6,147.2 L1209.8,148.6 L1210.0,150.0 L1210.2,151.4 L1210.4,152.8 L1210.6,154.2 L1210.8,155.6 L1211.0,156.9 L1211.2,158.3 L1211.4,159.7 L1211.6,161.1 L1211.9,162.5 L1212.1,163.9 L1212.3,165.2 L1212.5,166.6 L1212.8,168.0 L1213.0,169.4 L1213.2,170.8 L1213.5,172.1 L1213.7,173.5 L1213.9,174.9 L1214.2,176.3 L1214.4,177.7 L1214.7,179.0 L1214.9,180.4 L1215.1,181.8 L1215.4,183.2 L1215.6,184.6 L1215.9,185.9 L1216.1,187.3 L1216.4,188.7 L1216.6,190.1 L1216.9,191.4 L1217.1,192.8 L1217.4,194.2 L1217.6,195.6 L1217.9,197.0 L1218.1,198.3 L1218.3,199.7 L1218.6,201.1 L1218.8,202.5 L1219.1,203.8 L1219.3,205.2 L1219.5,206.6 L1219.8,208.0 L1220.0,209.4 L1220.2,210.8 L1220.5,212.1 L1220.7,213.5 L1220.9,214.9 L1221.2,216.3 L1221.4,217.7 L1221.6,219.0 L1221.9,220.4 L1222.1,221.8 L1222.3,223.2 L1222.5,224.6 L1222.8,225.9 L1223.0,227.3 L1223.2,228.7 L1223.5,230.1 L1223.7,231.5 L1223.9,232.8 L1224.1,234.2 L1224.4,235.6 L1224.6,237.0 L1224.9,238.4 L1225.1,239.7 L1225.4,241.1 L1225.6,242.5 L1225.9,243.9 L1226.2,245.2 L1226.4,246.6 L1226.7,248.0 L1227.0,249.4 L1227.2,250.7 L1227.5,252.1 L1227.8,253.5 L1228.1,254.9 L1228.4,256.2 L1228.6,257.6 L1228.9,259.0 L1229.2,260.3 L1229.5,261.7 L1229.8,263.1 L1230.1,264.5 L1230.4,265.8 L1230.6,267.2 L1230.9,268.6 L1231.2,269.9 L1231.5,271.3 L1231.8,272.7 L1232.1,274.0 L1232.4,275.4 L1232.7,276.8 L1233.0,278.1 L1233.3,279.5 L1233.6,280.9 L1233.9,282.2 L1234.2,283.6 L1234.5,285.0 L1234.9,286.3 L1235.2,287.7 L1235.6,289.0 L1235.9,290.4 L1236.3,291.7 L1236.7,293.1 L1237.1,294.4 L1237.5,295.8 L1237.9,297.1 L1238.3,298.4 L1238.7,299.8 L1239.1,301.1 L1239.5,302.5 L1239.9,303.8 L1240.3,305.2 L1240.7,306.5 L1241.1,307.8 L1241.5,309.2 L1241.9,310.5 L1242.3,311.9 L1242.7,313.2 L1243.1,314.5 L1243.5,315.9 L1243.9,317.2 L1244.4,318.5 L1244.8,319.9 L1245.3,321.2 L1245.7,322.5 L1246.2,323.8 L1246.7,325.2 L1247.1,326.5 L1247.6,327.8 L1248.1,329.1 L1248.6,330.4 L1249.1,331.7 L1249.6,333.0 L1250.1,334.4 L1250.6,335.7 L1251.1,337.0 L1251.6,338.3 L1252.1,339.6 L1252.6,340.9 L1253.1,342.2 L1253.6,343.5 L1254.2,344.8 L1254.7,346.1 L1255.2,347.4 L1255.7,348.7 L1256.2,350.0 L1256.8,351.3 L1257.4,352.5 L1258.0,353.8 L1258.7,355.0 L1259.4,356.2 L1260.1,357.4 L1260.9,358.6 L1261.7,359.7 L1262.4,360.9 L1263.2,362.1 L1264.1,363.2 L1265.0,364.2 L1265.9,365.2 L1267.0,366.2 L1268.0,367.1 L1269.1,368.0 L1270.1,368.9 L1271.2,369.8 L1272.3,370.8 L1273.3,371.7 L1274.3,372.7 L1275.2,373.7 L1276.0,374.9 L1276.9,376.0 L1277.7,377.1 L1278.5,378.3 L1279.3,379.4 L1280.1,380.6 L1280.9,381.7 L1281.8,382.8 L1282.7,383.9 L1283.6,384.9 L1284.7,385.8 L1285.8,386.5 L1287.0,387.2 L1288.3,387.8 L1289.6,388.4 L1290.9,388.9 L1292.1,389.5 L1293.4,390.0 L1294.7,390.6 L1296.0,391.1 L1297.3,391.7 L1298.5,392.3 L1299.8,393.0 L1301.0,393.7 L1302.2,394.4 L1303.4,395.1 L1304.6,395.8 L1305.9,396.3 L1307.2,396.7 L1308.6,397.1 L1309.9,397.3 L1311.3,397.5 L1312.7,397.6 L1314.1,397.6 L1315.5,397.6 L1316.9,397.6 L1318.3,397.5 L1319.7,397.4 L1321.1,397.3 L1322.5,397.1 L1323.9,397.0 L1325.3,396.8 L1326.7,396.6 L1328.1,396.5 L1329.4,396.3 L1330.8,396.1 L1332.2,395.9 L1333.6,395.7 L1335.0,395.5 L1336.4,395.3 L1337.8,395.1 L1339.1,394.9 L1340.5,394.6 L1341.9,394.4 L1343.2,394.1 L1344.3,393.8 L1345.2,393.6" fill="none" stroke="#000000" stroke-width="2.6" stroke-linejoin="round"/>
<path d="M800.9,436.7 L801.8,436.6 L802.9,436.5 L804.3,436.3 L805.7,436.1 L807.0,435.9 L808.4,435.7 L809.8,435.5 L811.2,435.2 L812.6,435.0 L813.9,434.7 L815.3,434.3 L816.7,434.0 L818.0,433.7 L819.4,433.3 L820.7,433.0 L822.1,432.6 L823.4,432.3 L824.8,431.9 L826.1,431.6 L827.5,431.2 L828.8,430.8 L830.2,430.4 L831.5,430.1 L832.9,429.7 L834.2,429.3 L835.6,429.0 L836.9,428.6 L838.3,428.2 L839.6,427.8 L841.0,427.4 L842.3,427.0 L843.6,426.5 L844.9,426.1 L846.3,425.6 L847.6,425.1 L848.9,424.6 L850.2,424.1 L851.5,423.6 L852.8,423.0 L854.1,422.5 L855.4,422.0 L856.7,421.4 L857.9,420.9 L859.2,420.4 L860.6,419.9 L861.9,419.4 L863.2,418.9 L864.5,418.5 L865.8,418.1 L867.2,417.7 L868.5,417.3 L869.9,416.9 L871.2,416.6 L872.6,416.2 L873.9,415.8 L875.3,415.4 L876.6,415.0 L877.9,414.5 L879.2,414.0 L880.5,413.4 L881.7,412.8 L882.9,412.1 L884.1,411.3 L885.2,410.5 L886.4,409.6 L887.5,408.8 L888.6,408.0 L889.8,407.2 L891.0,406.5 L892.2,405.7 L893.4,405.0 L894.6,404.3 L895.8,403.6 L897.0,402.9 L898.2,402.3 L899.5,401.6 L900.7,400.9 L901.9,400.2 L903.2,399.6 L904.4,398.9 L905.6,398.3 L906.9,397.7 L908.1,397.0 L909.4,396.4 L910.7,395.8 L911.9,395.2 L913.2,394.6 L914.4,394.0 L915.7,393.4 L917.0,392.8 L918.2,392.2 L919.5,391.6 L920.8,391.1 L922.1,390.5 L923.4,390.0 L924.7,389.6 L926.1,389.2 L927.4,388.8 L928.8,388.5 L930.1,388.2 L931.5,387.9 L932.9,387.7 L934.3,387.5 L935.7,387.4 L937.1,387.2 L938.5,387.2 L939.9,387.2 L941.2,387.4 L942.6,387.7 L943.9,388.0 L945.3,388.5 L946.6,389.0 L947.9,389.5 L949.2,390.0 L950.5,390.5 L951.7,391.1 L953.0,391.7 L954.3,392.2 L955.6,392.8 L956.9,393.3 L958.2,393.8 L959.5,394.2 L960.9,394.7 L962.2,395.1 L963.5,395.6 L964.8,396.0 L966.2,396.4 L967.5,396.9 L968.8,397.3 L970.2,397.7 L971.5,398.1 L972.8,398.6 L974.2,399.0 L975.5,399.4 L976.8,399.8 L978.2,400.3 L979.5,400.7 L980.8,401.1 L982.2,401.6 L983.5,402.0 L984.8,402.4 L986.2,402.8 L987.5,403.2 L988.9,403.6 L990.2,404.0 L991.5,404.4 L992.9,404.8 L994.2,405.2 L995.6,405.6 L996.9,405.9 L998.3,406.3 L999.7,406.6 L1001.0,406.9 L1002.4,407.2 L1003.8,407.4 L1005.2,407.6 L1006.5,407.8 L1007.9,408.0 L1009.3,408.1 L1010.7,408.1 L1012.1,408.0 L1013.5,408.0 L1014.9,407.9 L1016.3,407.9 L1017.7,407.9 L1019.1,408.1 L1020.5,408.2 L1021.9,408.4 L1023.3,408.5 L1024.6,408.6 L1026.0,408.5 L1027.4,408.3 L1028.8,408.1 L1030.2,407.8 L1031.5,407.5 L1032.9,407.2 L1034.3,407.1 L1035.7,407.0 L1037.1,407.0 L1038.5,407.1 L1039.9,407.1 L1041.2,407.0 L1042.6,406.8 L1043.9,406.4 L1045.2,405.8 L1046.4,405.2 L1047.6,404.4 L1048.7,403.6 L1049.8,402.8 L1050.9,401.9 L1052.0,401.0 L1053.1,400.1 L1054.2,399.3 L1055.3,398.4 L1056.5,397.6 L1057.6,396.8 L1058.8,396.1 L1060.0,395.3 L1061.2,394.6 L1062.4,393.9 L1063.6,393.2 L1064.7,392.4 L1065.8,391.5 L1066.8,390.5 L1067.7,389.4 L1068.6,388.4 L1069.6,387.3 L1070.5,386.3 L1071.4,385.3 L1072.4,384.2 L1073.3,383.2 L1074.2,382.1 L1075.0,381.0 L1075.6,379.7 L1076.2,378.5 L1076.8,377.2 L1077.4,375.9 L1078.0,374.7 L1078.7,373.5 L1079.4,372.2 L1080.1,371.0 L1080.8,369.9 L1081.6,368.7 L1082.3,367.5 L1083.1,366.3 L1083.8,365.1 L1084.6,363.9 L1085.3,362.8 L1086.0,361.6 L1086.8,360.4 L1087.5,359.2 L1088.2,358.0 L1088.9,356.7 L1089.6,355.5 L1090.3,354.3 L1091.0,353.1 L1091.6,351.9 L1092.3,350.6 L1093.0,349.4 L1093.6,348.2 L1094.3,346.9 L1094.9,345.7 L1095.5,344.4 L1096.2,343.2 L1096.8,341.9 L1097.4,340.7 L1098.0,339.4 L1098.6,338.1 L1099.2,336.9 L1099.8,335.6 L1100.4,334.3 L1101.0,333.1 L1101.6,331.8 L1102.1,330.5 L1102.7,329.2 L1103.3,327.9 L1103.8,326.7 L1104.4,325.4 L1104.9,324.1 L1105.5,322.8 L1106.0,321.5 L1106.6,320.2 L1107.1,318.9 L1107.7,317.6 L1108.2,316.3 L1108.7,315.0 L1109.2,313.7 L1109.7,312.4 L1110.2,311.1 L1110.7,309.8 L1111.1,308.5 L1111.6,307.2 L1112.0,305.8 L1112.4,304.5 L1112.8,303.2 L1113.2,301.8 L1113.6,300.5 L1114.0,299.1 L1114.4,297.8 L1114.8,296.4 L1115.2,295.1 L1115.5,293.7 L1115.9,292.4 L1116.3,291.0 L1116.7,289.7 L1117.1,288.4 L1117.5,287.0 L1118.0,285.7 L1118.5,284.4 L1119.0,283.1 L1119.5,281.8 L1120.1,280.5 L1120.6,279.2 L1121.2,277.9 L1121.7,276.6 L1122.2,275.3 L1122.7,274.0 L1123.2,272.7 L1123.7,271.4 L1124.1,270.1 L1124.6,268.8 L1125.0,267.4 L1125.4,266.1 L1125.8,264.7 L1126.3,263.4 L1126.7,262.1 L1127.1,260.7 L1127.5,259.4 L1127.9,258.0 L1128.3,256.7 L1128.7,255.4 L1129.1,254.0 L1129.5,252.7 L1129.9,251.3 L1130.3,250.0 L1130.7,248.7 L1131.1,247.3 L1131.5,246.0 L1131.9,244.6 L1132.3,243.3 L1132.7,241.9 L1133.1,240.6 L1133.5,239.3 L1133.9,237.9 L1134.3,236.6 L1134.7,235.2 L1135.1,233.9 L1135.5,232.6 L1135.9,231.2 L1136.3,229.9 L1136.8,228.6 L1137.2,227.2 L1137.6,225.9 L1138.0,224.6 L1138.5,223.2 L1138.9,221.9 L1139.4,220.6 L1139.8,219.2 L1140.2,217.9 L1140.7,216.6 L1141.1,215.2 L1141.5,213.9 L1142.0,212.6 L1142.4,211.3 L1142.9,209.9 L1143.3,208.6 L1143.8,207.3 L1144.3,206.0 L1144.8,204.7 L1145.3,203.4 L1145.8,202.1 L1146.4,200.8 L1147.0,199.5 L1147.6,198.3 L1148.2,197.0 L1148.8,195.7 L1149.3,194.4 L1149.9,193.2 L1150.4,191.9 L1150.9,190.5 L1151.3,189.2 L1151.7,187.9 L1152.1,186.5 L1152.6,185.2 L1153.0,183.9 L1153.5,182.6 L1154.0,181.3 L1154.6,180.0 L1155.2,178.7 L1155.8,177.5 L1156.5,176.2 L1157.2,175.0 L1157.9,173.8 L1158.7,172.7 L1159.5,171.5 L1160.4,170.5 L1161.3,169.4 L1162.3,168.5 L1163.5,167.7 L1164.7,167.0 L1165.9,166.5 L1167.3,166.2 L1168.6,166.1 L1170.0,166.2 L1171.3,166.5 L1172.6,167.0 L1173.9,167.5 L1175.2,168.0 L1176.5,168.5 L1177.8,169.0 L1179.1,169.5 L1180.3,170.2 L1181.5,171.0 L1182.5,171.9 L1183.5,172.9 L1184.4,174.0 L1185.2,175.1 L1186.0,176.2 L1186.8,177.4 L1187.5,178.6 L1188.2,179.8 L1188.9,181.0 L1189.6,182.2 L1190.2,183.5 L1190.8,184.7 L1191.4,186.0 L1192.0,187.3 L1192.5,188.6 L1193.1,189.9 L1193.5,191.2 L1194.0,192.5 L1194.5,193.8 L1194.9,195.2 L1195.3,196.5 L1195.7,197.9 L1196.1,199.2 L1196.5,200.5 L1196.8,201.9 L1197.2,203.2 L1197.6,204.6 L1198.0,205.9 L1198.3,207.3 L1198.7,208.6 L1199.1,210.0 L1199.5,211.3 L1199.8,212.7 L1200.2,214.0 L1200.6,215.4 L1201.0,216.7 L1201.4,218.1 L1201.7,219.4 L1202.1,220.8 L1202.5,222.1 L1202.9,223.5 L1203.3,224.8 L1203.6,226.2 L1204.0,227.5 L1204.4,228.8 L1204.8,230.2 L1205.2,231.5 L1205.5,232.9 L1205.9,234.2 L1206.3,235.6 L1206.7,236.9 L1207.0,238.3 L1207.4,239.6 L1207.8,241.0 L1208.2,242.3 L1208.5,243.7 L1208.9,245.0 L1209.3,246.4 L1209.7,247.7 L1210.1,249.1 L1210.4,250.4 L1210.8,251.8 L1211.2,253.1 L1211.6,254.5 L1211.9,255.8 L1212.3,257.2 L1212.7,258.5 L1213.1,259.9 L1213.5,261.2 L1213.8,262.6 L1214.2,263.9 L1214.6,265.2 L1215.0,266.6 L1215.4,267.9 L1215.8,269.3 L1216.2,270.6 L1216.5,272.0 L1216.9,273.3 L1217.3,274.7 L1217.7,276.0 L1218.1,277.3 L1218.5,278.7 L1218.9,280.0 L1219.3,281.4 L1219.7,282.7 L1220.1,284.1 L1220.5,285.4 L1220.9,286.7 L1221.3,288.1 L1221.6,289.4 L1222.0,290.8 L1222.3,292.2 L1222.6,293.5 L1223.0,294.9 L1223.3,296.2 L1223.6,297.6 L1223.9,299.0 L1224.3,300.3 L1224.6,301.7 L1225.0,303.0 L1225.4,304.4 L1225.8,305.7 L1226.2,307.0 L1226.7,308.4 L1227.1,309.7 L1227.6,311.0 L1228.1,312.3 L1228.5,313.7 L1229.0,315.0 L1229.5,316.3 L1230.0,317.6 L1230.5,318.9 L1231.0,320.2 L1231.5,321.5 L1232.1,322.8 L1232.6,324.1 L1233.1,325.4 L1233.6,326.7 L1234.2,328.0 L1234.7,329.3 L1235.3,330.6 L1235.8,331.9 L1236.3,333.2 L1236.9,334.4 L1237.4,335.7 L1238.0,337.0 L1238.5,338.3 L1239.1,339.6 L1239.6,340.9 L1240.2,342.2 L1240.7,343.5 L1241.3,344.7 L1241.8,346.0 L1242.4,347.3 L1242.9,348.6 L1243.5,349.9 L1244.0,351.2 L1244.6,352.4 L1245.2,353.7 L1245.8,355.0 L1246.4,356.2 L1247.1,357.5 L1247.7,358.7 L1248.4,359.9 L1249.2,361.1 L1249.9,362.3 L1250.8,363.4 L1251.7,364.4 L1252.7,365.4 L1253.7,366.4 L1254.7,367.4 L1255.6,368.5 L1256.4,369.5 L1257.3,370.6 L1258.2,371.8 L1259.0,372.9 L1259.9,374.0 L1260.7,375.1 L1261.6,376.2 L1262.4,377.3 L1263.3,378.4 L1264.2,379.5 L1265.2,380.5 L1266.2,381.5 L1267.2,382.4 L1268.2,383.4 L1269.3,384.3 L1270.4,385.1 L1271.5,386.0 L1272.6,386.8 L1273.8,387.6 L1274.9,388.4 L1276.1,389.2 L1277.3,389.9 L1278.5,390.6 L1279.7,391.3 L1281.0,391.9 L1282.2,392.6 L1283.5,393.2 L1284.8,393.7 L1286.0,394.3 L1287.3,394.8 L1288.6,395.3 L1290.0,395.8 L1291.3,396.3 L1292.6,396.8 L1293.9,397.3 L1295.2,397.7 L1296.5,398.2 L1297.9,398.6 L1299.2,398.9 L1300.6,399.2 L1302.0,399.4 L1303.4,399.6 L1304.8,399.8 L1306.2,399.9 L1307.5,400.0 L1308.9,400.2 L1310.3,400.3 L1311.7,400.4 L1313.1,400.5 L1314.5,400.7 L1315.9,400.8 L1317.3,400.9 L1318.7,400.9 L1320.1,400.8 L1321.5,400.7 L1322.9,400.5 L1324.3,400.3 L1325.6,400.0 L1327.0,399.7 L1328.3,399.4 L1329.7,399.1 L1331.1,398.8 L1332.5,398.5 L1333.8,398.2 L1335.2,397.9 L1336.6,397.6 L1337.9,397.3 L1339.3,397.0 L1340.7,396.7 L1342.0,396.3 L1343.3,396.0 L1344.4,395.7 L1345.3,395.4" fill="none" stroke="#00a650" stroke-width="2.6" stroke-linejoin="round"/>
<path d="M800.9,427.6 L801.8,427.8 L802.9,427.9 L804.3,428.2 L805.6,428.5 L807.0,428.8 L808.3,429.3 L809.5,429.9 L810.7,430.6 L811.8,431.4 L813.0,432.2 L814.2,432.8 L815.5,433.3 L816.8,433.6 L818.2,433.9 L819.6,434.1 L821.0,434.3 L822.3,434.4 L823.7,434.4 L825.1,434.4 L826.5,434.4 L827.9,434.2 L829.3,434.0 L830.7,433.7 L832.0,433.3 L833.3,432.9 L834.6,432.4 L835.9,431.9 L837.2,431.3 L838.5,430.8 L839.8,430.2 L841.1,429.7 L842.4,429.3 L843.8,428.8 L845.1,428.4 L846.4,428.0 L847.8,427.6 L849.1,427.2 L850.5,426.8 L851.8,426.5 L853.2,426.1 L854.5,425.7 L855.8,425.3 L857.2,424.8 L858.5,424.4 L859.8,423.9 L861.1,423.4 L862.4,422.9 L863.7,422.4 L865.0,421.8 L866.3,421.3 L867.6,420.7 L868.9,420.1 L870.1,419.6 L871.4,419.1 L872.7,418.6 L874.1,418.1 L875.4,417.7 L876.7,417.3 L878.1,416.9 L879.5,416.6 L880.8,416.4 L882.2,416.2 L883.6,416.0 L885.0,415.8 L886.4,415.6 L887.8,415.4 L889.2,415.3 L890.5,415.1 L891.9,414.9 L893.3,414.7 L894.7,414.5 L896.1,414.2 L897.5,414.0 L898.8,413.8 L900.2,413.5 L901.6,413.3 L903.0,413.0 L904.3,412.8 L905.7,412.5 L907.1,412.2 L908.4,411.8 L909.8,411.5 L911.1,411.1 L912.5,410.7 L913.8,410.2 L915.1,409.7 L916.4,409.2 L917.7,408.7 L919.0,408.1 L920.3,407.6 L921.6,407.1 L922.9,406.6 L924.2,406.2 L925.6,405.8 L926.9,405.5 L928.3,405.2 L929.7,405.0 L931.1,404.8 L932.5,404.7 L933.9,404.7 L935.3,404.7 L936.7,404.8 L938.0,405.0 L939.4,405.2 L940.8,405.4 L942.2,405.6 L943.6,405.8 L945.0,406.0 L946.4,406.1 L947.8,406.2 L949.1,406.3 L950.5,406.3 L951.9,406.2 L953.3,406.2 L954.7,406.1 L956.1,406.2 L957.5,406.4 L958.8,406.8 L960.1,407.3 L961.4,407.9 L962.6,408.6 L963.8,409.2 L965.1,409.9 L966.3,410.5 L967.6,411.0 L968.9,411.5 L970.2,412.0 L971.6,412.4 L972.9,412.7 L974.3,413.0 L975.7,413.2 L977.1,413.3 L978.5,413.4 L979.9,413.5 L981.3,413.6 L982.7,413.7 L984.1,413.7 L985.5,413.8 L986.9,413.8 L988.3,413.9 L989.7,413.9 L991.1,413.9 L992.5,414.0 L993.9,414.0 L995.3,414.0 L996.7,414.0 L998.1,413.9 L999.4,413.7 L1000.8,413.5 L1002.2,413.2 L1003.5,412.8 L1004.8,412.4 L1006.2,412.1 L1007.6,411.8 L1008.9,411.6 L1010.3,411.4 L1011.7,411.2 L1013.1,411.0 L1014.5,410.8 L1015.9,410.7 L1017.3,410.6 L1018.7,410.6 L1020.1,410.6 L1021.5,410.7 L1022.9,410.8 L1024.2,411.0 L1025.6,411.1 L1027.0,411.3 L1028.4,411.5 L1029.8,411.6 L1031.2,411.7 L1032.6,411.6 L1034.0,411.4 L1035.3,411.1 L1036.6,410.6 L1037.9,410.1 L1039.1,409.5 L1040.4,408.8 L1041.6,408.2 L1042.9,407.6 L1044.1,406.9 L1045.4,406.4 L1046.7,405.9 L1048.0,405.4 L1049.3,404.9 L1050.7,404.5 L1052.0,404.0 L1053.3,403.5 L1054.5,402.9 L1055.8,402.2 L1057.0,401.6 L1058.3,400.9 L1059.5,400.3 L1060.8,399.8 L1062.1,399.4 L1063.4,399.2 L1064.7,399.1 L1066.0,398.9 L1067.1,398.3 L1068.1,397.5 L1069.1,396.5 L1069.9,395.4 L1070.8,394.3 L1071.7,393.2 L1072.6,392.1 L1073.6,391.2 L1074.6,390.2 L1075.7,389.3 L1076.8,388.5 L1077.9,387.6 L1079.0,386.8 L1080.1,385.9 L1081.2,385.1 L1082.4,384.2 L1083.5,383.4 L1084.6,382.5 L1085.7,381.6 L1086.7,380.7 L1087.7,379.8 L1088.7,378.8 L1089.6,377.7 L1090.3,376.5 L1091.0,375.3 L1091.7,374.1 L1092.3,372.8 L1093.0,371.6 L1093.8,370.5 L1094.7,369.5 L1095.7,368.5 L1096.7,367.5 L1097.5,366.4 L1098.3,365.3 L1099.1,364.1 L1099.8,362.9 L1100.6,361.7 L1101.4,360.6 L1102.2,359.4 L1103.0,358.3 L1103.7,357.1 L1104.4,355.9 L1105.1,354.7 L1105.8,353.5 L1106.5,352.3 L1107.4,351.3 L1108.4,350.4 L1109.6,349.6 L1110.7,348.9 L1111.8,348.1 L1112.9,347.1 L1113.8,346.1 L1114.6,345.0 L1115.5,343.9 L1116.3,342.7 L1117.0,341.6 L1117.8,340.4 L1118.6,339.2 L1119.3,338.0 L1120.1,336.9 L1120.8,335.7 L1121.5,334.5 L1122.3,333.3 L1123.0,332.1 L1123.7,330.9 L1124.4,329.7 L1125.2,328.5 L1126.0,327.4 L1126.9,326.3 L1127.8,325.2 L1128.7,324.1 L1129.6,323.1 L1130.5,322.1 L1131.5,321.1 L1132.6,320.1 L1133.6,319.2 L1134.6,318.3 L1135.6,317.2 L1136.4,316.1 L1137.1,314.9 L1137.7,313.7 L1138.3,312.4 L1138.9,311.2 L1139.6,309.9 L1140.3,308.7 L1141.0,307.5 L1141.8,306.4 L1142.6,305.2 L1143.4,304.1 L1144.2,302.9 L1145.1,301.8 L1145.9,300.7 L1146.8,299.6 L1147.6,298.5 L1148.4,297.3 L1149.1,296.1 L1149.8,294.9 L1150.5,293.7 L1151.1,292.4 L1151.7,291.2 L1152.4,289.9 L1153.1,288.7 L1153.8,287.5 L1154.5,286.3 L1155.2,285.1 L1156.0,283.9 L1156.7,282.7 L1157.4,281.5 L1158.1,280.3 L1158.9,279.1 L1159.6,278.0 L1160.5,276.8 L1161.3,275.7 L1162.2,274.7 L1163.2,273.7 L1164.2,272.8 L1165.4,272.0 L1166.6,271.3 L1167.8,270.7 L1169.1,270.2 L1170.5,269.7 L1171.8,269.4 L1173.2,269.1 L1174.5,269.0 L1175.9,269.1 L1177.2,269.4 L1178.5,269.9 L1179.8,270.4 L1181.1,271.0 L1182.3,271.7 L1183.4,272.5 L1184.5,273.4 L1185.6,274.3 L1186.7,275.2 L1187.8,276.1 L1188.8,276.9 L1189.9,277.8 L1191.0,278.7 L1192.1,279.6 L1193.2,280.5 L1194.2,281.4 L1195.1,282.5 L1196.0,283.6 L1196.7,284.7 L1197.5,285.9 L1198.2,287.1 L1199.0,288.3 L1199.7,289.5 L1200.5,290.6 L1201.2,291.8 L1201.9,293.0 L1202.7,294.2 L1203.4,295.4 L1204.2,296.6 L1204.9,297.8 L1205.7,298.9 L1206.5,300.1 L1207.3,301.3 L1208.0,302.4 L1208.8,303.6 L1209.6,304.7 L1210.4,305.9 L1211.1,307.1 L1211.8,308.3 L1212.5,309.5 L1213.2,310.7 L1213.8,312.0 L1214.5,313.2 L1215.1,314.5 L1215.7,315.7 L1216.3,317.0 L1216.9,318.3 L1217.5,319.5 L1218.1,320.8 L1218.7,322.1 L1219.3,323.3 L1219.9,324.6 L1220.5,325.9 L1221.1,327.1 L1221.7,328.4 L1222.2,329.7 L1222.8,331.0 L1223.4,332.2 L1224.0,333.5 L1224.7,334.7 L1225.4,336.0 L1226.1,337.2 L1226.8,338.3 L1227.6,339.5 L1228.5,340.6 L1229.3,341.7 L1230.0,342.9 L1230.8,344.1 L1231.5,345.3 L1232.2,346.5 L1232.9,347.7 L1233.6,348.9 L1234.3,350.1 L1235.0,351.3 L1235.8,352.5 L1236.5,353.7 L1237.2,354.9 L1238.0,356.1 L1238.7,357.3 L1239.5,358.5 L1240.2,359.6 L1241.0,360.8 L1241.8,362.0 L1242.6,363.1 L1243.4,364.3 L1244.2,365.4 L1245.0,366.5 L1245.9,367.6 L1246.8,368.7 L1247.7,369.7 L1248.7,370.8 L1249.7,371.8 L1250.7,372.7 L1251.7,373.7 L1252.7,374.7 L1253.7,375.7 L1254.7,376.6 L1255.7,377.6 L1256.7,378.6 L1257.7,379.6 L1258.7,380.5 L1259.7,381.5 L1260.7,382.5 L1261.7,383.5 L1262.7,384.5 L1263.7,385.5 L1264.7,386.5 L1265.6,387.5 L1266.6,388.5 L1267.6,389.5 L1268.6,390.4 L1269.6,391.4 L1270.7,392.3 L1271.8,393.1 L1273.0,393.9 L1274.2,394.6 L1275.4,395.3 L1276.6,396.0 L1277.8,396.7 L1279.1,397.3 L1280.3,397.9 L1281.6,398.5 L1282.9,399.1 L1284.2,399.6 L1285.5,400.2 L1286.8,400.7 L1288.1,401.2 L1289.4,401.7 L1290.7,402.2 L1292.0,402.6 L1293.3,403.1 L1294.7,403.5 L1296.0,403.7 L1297.4,403.9 L1298.8,403.9 L1300.2,403.8 L1301.6,403.6 L1303.0,403.5 L1304.4,403.5 L1305.8,403.6 L1307.1,403.7 L1308.5,404.0 L1309.9,404.2 L1311.3,404.6 L1312.6,405.0 L1313.9,405.4 L1315.2,405.9 L1316.5,406.3 L1317.9,406.5 L1319.3,406.5 L1320.7,406.5 L1322.1,406.3 L1323.4,406.1 L1324.8,405.7 L1326.1,405.3 L1327.3,404.7 L1328.6,404.1 L1329.9,403.6 L1331.2,403.0 L1332.5,402.5 L1333.8,402.0 L1335.1,401.5 L1336.4,401.0 L1337.7,400.5 L1338.9,400.0 L1340.0,399.5 L1340.9,399.2" fill="none" stroke="#000000" stroke-width="2.6" stroke-linejoin="round" stroke-dasharray="4.40,7.10" stroke-linecap="round"/>
<path d="M800.8,435.6 L801.7,435.3 L802.8,434.9 L804.0,434.4 L805.3,433.9 L806.7,433.5 L808.0,433.0 L809.3,432.6 L810.6,432.1 L812.0,431.7 L813.3,431.4 L814.7,431.0 L816.0,430.6 L817.4,430.3 L818.8,430.0 L820.1,429.7 L821.5,429.3 L822.8,429.0 L824.2,428.7 L825.6,428.4 L826.9,428.0 L828.3,427.7 L829.6,427.3 L831.0,426.9 L832.3,426.5 L833.7,426.1 L835.0,425.7 L836.3,425.2 L837.7,424.8 L839.0,424.4 L840.3,424.0 L841.7,423.6 L843.0,423.2 L844.4,422.8 L845.7,422.5 L847.1,422.1 L848.5,421.9 L849.8,421.6 L851.2,421.4 L852.6,421.2 L854.0,421.0 L855.4,420.7 L856.7,420.4 L858.1,420.1 L859.4,419.7 L860.7,419.2 L862.0,418.7 L863.3,418.2 L864.6,417.5 L865.8,416.9 L867.0,416.2 L868.3,415.6 L869.5,414.9 L870.7,414.2 L872.0,413.6 L873.2,412.9 L874.4,412.2 L875.7,411.6 L876.9,410.9 L878.1,410.3 L879.4,409.6 L880.6,408.9 L881.8,408.2 L883.0,407.4 L884.2,406.7 L885.3,405.9 L886.5,405.1 L887.6,404.3 L888.7,403.4 L889.8,402.6 L890.9,401.7 L892.0,400.8 L893.1,399.9 L894.1,399.0 L895.2,398.1 L896.3,397.2 L897.4,396.3 L898.4,395.4 L899.5,394.5 L900.5,393.6 L901.6,392.6 L902.6,391.7 L903.6,390.8 L904.7,389.8 L905.7,388.9 L906.8,388.0 L907.9,387.1 L908.9,386.2 L910.1,385.3 L911.2,384.5 L912.4,383.8 L913.6,383.1 L914.8,382.4 L916.1,381.8 L917.4,381.3 L918.7,380.8 L920.0,380.3 L921.3,379.9 L922.7,379.5 L924.0,379.1 L925.4,378.8 L926.7,378.6 L928.1,378.5 L929.5,378.5 L930.9,378.6 L932.3,378.9 L933.6,379.2 L935.0,379.6 L936.3,380.0 L937.6,380.4 L939.0,380.7 L940.4,381.0 L941.7,381.3 L943.1,381.5 L944.5,381.8 L945.8,382.1 L947.2,382.5 L948.5,382.9 L949.8,383.4 L951.1,383.9 L952.4,384.4 L953.7,384.9 L955.0,385.4 L956.4,385.9 L957.7,386.2 L959.1,386.4 L960.5,386.5 L961.8,386.6 L963.2,386.7 L964.6,387.0 L965.9,387.5 L967.1,388.0 L968.4,388.6 L969.6,389.3 L970.9,390.0 L972.1,390.6 L973.4,391.2 L974.6,391.8 L975.9,392.4 L977.2,392.9 L978.5,393.4 L979.8,393.9 L981.2,394.3 L982.5,394.8 L983.8,395.2 L985.1,395.7 L986.5,396.1 L987.8,396.5 L989.2,396.9 L990.5,397.3 L991.8,397.7 L993.2,398.0 L994.5,398.4 L995.9,398.8 L997.2,399.2 L998.6,399.6 L999.9,400.0 L1001.2,400.5 L1002.5,401.0 L1003.9,401.4 L1005.2,401.7 L1006.6,402.0 L1008.0,402.2 L1009.4,402.4 L1010.7,402.5 L1012.1,402.6 L1013.5,402.6 L1014.9,402.6 L1016.3,402.5 L1017.7,402.3 L1019.1,402.0 L1020.5,401.7 L1021.8,401.5 L1023.2,401.3 L1024.6,401.1 L1026.0,400.9 L1027.4,400.7 L1028.8,400.5 L1030.1,400.3 L1031.5,400.1 L1032.9,399.8 L1034.2,399.4 L1035.6,399.1 L1036.9,398.7 L1038.3,398.3 L1039.6,397.8 L1040.9,397.3 L1042.2,396.7 L1043.4,396.1 L1044.6,395.4 L1045.7,394.6 L1046.8,393.7 L1047.9,392.8 L1048.9,391.8 L1049.9,390.9 L1050.9,389.9 L1052.0,389.0 L1053.0,388.0 L1054.0,387.1 L1055.1,386.1 L1056.1,385.2 L1057.2,384.3 L1058.3,383.5 L1059.4,382.6 L1060.5,381.7 L1061.6,380.8 L1062.6,379.9 L1063.7,379.0 L1064.7,378.0 L1065.7,377.0 L1066.7,376.0 L1067.6,375.0 L1068.4,373.8 L1069.2,372.7 L1069.9,371.5 L1070.6,370.3 L1071.3,369.1 L1072.0,367.9 L1072.8,366.7 L1073.5,365.5 L1074.2,364.3 L1074.9,363.1 L1075.6,361.8 L1076.2,360.6 L1076.8,359.3 L1077.4,358.1 L1078.0,356.8 L1078.5,355.5 L1079.1,354.2 L1079.7,353.0 L1080.4,351.7 L1081.0,350.5 L1081.6,349.2 L1082.3,348.0 L1082.9,346.7 L1083.5,345.5 L1084.1,344.2 L1084.7,342.9 L1085.3,341.7 L1085.9,340.4 L1086.5,339.1 L1087.1,337.9 L1087.7,336.6 L1088.2,335.3 L1088.8,334.0 L1089.4,332.8 L1089.9,331.5 L1090.5,330.2 L1091.0,328.9 L1091.6,327.6 L1092.1,326.3 L1092.6,325.0 L1093.1,323.7 L1093.7,322.4 L1094.2,321.1 L1094.7,319.8 L1095.2,318.5 L1095.7,317.2 L1096.1,315.9 L1096.6,314.6 L1097.1,313.2 L1097.6,311.9 L1098.0,310.6 L1098.5,309.3 L1098.9,307.9 L1099.4,306.6 L1099.9,305.3 L1100.3,304.0 L1100.7,302.6 L1101.2,301.3 L1101.6,300.0 L1102.1,298.7 L1102.5,297.3 L1102.9,296.0 L1103.4,294.7 L1103.8,293.3 L1104.2,292.0 L1104.7,290.7 L1105.1,289.4 L1105.6,288.0 L1106.1,286.7 L1106.6,285.4 L1107.1,284.1 L1107.6,282.8 L1108.0,281.5 L1108.5,280.1 L1108.9,278.8 L1109.3,277.5 L1109.7,276.1 L1110.1,274.8 L1110.5,273.4 L1110.9,272.1 L1111.3,270.8 L1111.7,269.4 L1112.1,268.1 L1112.5,266.7 L1112.9,265.4 L1113.3,264.0 L1113.7,262.7 L1114.1,261.4 L1114.5,260.0 L1114.9,258.7 L1115.3,257.3 L1115.7,256.0 L1116.1,254.7 L1116.5,253.3 L1117.0,252.0 L1117.4,250.7 L1117.8,249.3 L1118.2,248.0 L1118.6,246.6 L1119.0,245.3 L1119.4,244.0 L1119.8,242.6 L1120.2,241.3 L1120.6,239.9 L1120.9,238.6 L1121.3,237.2 L1121.7,235.9 L1122.0,234.5 L1122.4,233.2 L1122.8,231.8 L1123.1,230.5 L1123.5,229.1 L1123.8,227.7 L1124.2,226.4 L1124.5,225.0 L1124.9,223.7 L1125.2,222.3 L1125.6,221.0 L1125.9,219.6 L1126.3,218.3 L1126.7,216.9 L1127.0,215.6 L1127.4,214.2 L1127.7,212.9 L1128.1,211.5 L1128.5,210.2 L1128.8,208.8 L1129.2,207.4 L1129.6,206.1 L1129.9,204.7 L1130.3,203.4 L1130.7,202.0 L1131.0,200.7 L1131.4,199.3 L1131.7,198.0 L1132.1,196.6 L1132.4,195.3 L1132.8,193.9 L1133.1,192.6 L1133.5,191.2 L1133.9,189.9 L1134.3,188.5 L1134.7,187.2 L1135.1,185.8 L1135.5,184.5 L1135.9,183.2 L1136.3,181.8 L1136.7,180.5 L1137.1,179.2 L1137.6,177.8 L1138.0,176.5 L1138.4,175.1 L1138.8,173.8 L1139.2,172.4 L1139.5,171.1 L1139.9,169.8 L1140.3,168.4 L1140.7,167.1 L1141.1,165.7 L1141.4,164.4 L1141.8,163.0 L1142.2,161.7 L1142.6,160.3 L1143.0,159.0 L1143.3,157.6 L1143.7,156.3 L1144.1,154.9 L1144.5,153.6 L1144.8,152.2 L1145.2,150.9 L1145.6,149.5 L1146.0,148.2 L1146.4,146.8 L1146.7,145.5 L1147.1,144.1 L1147.5,142.8 L1147.9,141.4 L1148.2,140.1 L1148.6,138.7 L1148.9,137.4 L1149.3,136.0 L1149.6,134.7 L1150.0,133.3 L1150.3,132.0 L1150.7,130.6 L1151.0,129.3 L1151.4,127.9 L1151.7,126.5 L1152.1,125.2 L1152.5,123.8 L1152.8,122.5 L1153.2,121.1 L1153.6,119.8 L1154.0,118.4 L1154.3,117.1 L1154.8,115.8 L1155.2,114.4 L1155.6,113.1 L1156.1,111.8 L1156.6,110.5 L1157.1,109.2 L1157.7,107.9 L1158.3,106.6 L1159.0,105.4 L1159.8,104.3 L1160.6,103.2 L1161.5,102.1 L1162.5,101.1 L1163.5,100.1 L1164.5,99.2 L1165.6,98.3 L1166.7,97.6 L1167.9,97.1 L1169.2,96.9 L1170.5,97.1 L1171.8,97.5 L1173.1,98.1 L1174.3,98.8 L1175.4,99.6 L1176.5,100.4 L1177.6,101.3 L1178.7,102.2 L1179.6,103.3 L1180.5,104.3 L1181.3,105.5 L1182.0,106.7 L1182.7,107.9 L1183.3,109.2 L1183.9,110.4 L1184.5,111.7 L1185.1,113.0 L1185.6,114.3 L1186.2,115.5 L1186.7,116.8 L1187.2,118.1 L1187.7,119.5 L1188.2,120.8 L1188.6,122.1 L1189.1,123.4 L1189.6,124.7 L1190.0,126.1 L1190.4,127.4 L1190.9,128.7 L1191.3,130.1 L1191.7,131.4 L1192.2,132.7 L1192.6,134.1 L1193.0,135.4 L1193.4,136.7 L1193.8,138.1 L1194.2,139.4 L1194.6,140.8 L1195.0,142.1 L1195.4,143.4 L1195.8,144.8 L1196.2,146.1 L1196.6,147.5 L1197.0,148.8 L1197.3,150.2 L1197.7,151.5 L1198.1,152.9 L1198.5,154.2 L1198.9,155.6 L1199.2,156.9 L1199.6,158.3 L1200.0,159.6 L1200.3,161.0 L1200.6,162.3 L1201.0,163.7 L1201.3,165.0 L1201.6,166.4 L1202.0,167.8 L1202.3,169.1 L1202.6,170.5 L1202.9,171.9 L1203.2,173.2 L1203.5,174.6 L1203.8,176.0 L1204.1,177.3 L1204.4,178.7 L1204.7,180.1 L1205.0,181.4 L1205.3,182.8 L1205.6,184.2 L1205.9,185.5 L1206.2,186.9 L1206.5,188.3 L1206.8,189.6 L1207.1,191.0 L1207.4,192.4 L1207.7,193.8 L1207.9,195.1 L1208.2,196.5 L1208.5,197.9 L1208.7,199.2 L1209.0,200.6 L1209.2,202.0 L1209.5,203.4 L1209.7,204.8 L1209.9,206.1 L1210.2,207.5 L1210.4,208.9 L1210.6,210.3 L1210.9,211.7 L1211.1,213.0 L1211.4,214.4 L1211.6,215.8 L1211.8,217.2 L1212.1,218.6 L1212.4,219.9 L1212.7,221.3 L1212.9,222.7 L1213.2,224.0 L1213.5,225.4 L1213.8,226.8 L1214.1,228.1 L1214.5,229.5 L1214.8,230.9 L1215.1,232.2 L1215.4,233.6 L1215.8,234.9 L1216.1,236.3 L1216.4,237.7 L1216.8,239.0 L1217.1,240.4 L1217.4,241.7 L1217.8,243.1 L1218.1,244.5 L1218.5,245.8 L1218.8,247.2 L1219.2,248.5 L1219.5,249.9 L1219.9,251.2 L1220.2,252.6 L1220.6,253.9 L1221.0,255.3 L1221.3,256.6 L1221.7,258.0 L1222.1,259.3 L1222.5,260.7 L1222.9,262.0 L1223.3,263.4 L1223.7,264.7 L1224.0,266.1 L1224.4,267.4 L1224.8,268.8 L1225.1,270.1 L1225.5,271.5 L1225.8,272.8 L1226.1,274.2 L1226.4,275.6 L1226.7,276.9 L1227.0,278.3 L1227.3,279.7 L1227.6,281.0 L1227.9,282.4 L1228.2,283.8 L1228.5,285.2 L1228.8,286.5 L1229.1,287.9 L1229.4,289.2 L1229.7,290.6 L1230.1,292.0 L1230.4,293.3 L1230.7,294.7 L1231.1,296.0 L1231.4,297.4 L1231.8,298.7 L1232.2,300.1 L1232.5,301.4 L1232.9,302.8 L1233.3,304.1 L1233.8,305.5 L1234.2,306.8 L1234.6,308.1 L1235.1,309.4 L1235.6,310.8 L1236.0,312.1 L1236.5,313.4 L1237.0,314.7 L1237.5,316.0 L1238.0,317.3 L1238.5,318.6 L1239.0,319.9 L1239.5,321.2 L1240.0,322.5 L1240.6,323.8 L1241.1,325.1 L1241.6,326.4 L1242.2,327.7 L1242.7,329.0 L1243.2,330.3 L1243.8,331.6 L1244.3,332.9 L1244.9,334.2 L1245.4,335.5 L1246.0,336.8 L1246.5,338.0 L1247.1,339.3 L1247.7,340.6 L1248.3,341.8 L1248.9,343.1 L1249.6,344.3 L1250.2,345.6 L1250.9,346.8 L1251.6,348.0 L1252.2,349.3 L1252.9,350.5 L1253.6,351.7 L1254.2,353.0 L1254.9,354.2 L1255.5,355.4 L1256.2,356.7 L1256.8,357.9 L1257.5,359.2 L1258.1,360.4 L1258.8,361.6 L1259.5,362.8 L1260.2,364.0 L1261.0,365.2 L1261.8,366.4 L1262.6,367.5 L1263.5,368.6 L1264.3,369.7 L1265.2,370.8 L1266.2,371.8 L1267.1,372.9 L1268.1,373.9 L1269.0,374.9 L1270.0,375.9 L1271.0,376.9 L1271.9,377.9 L1272.9,378.9 L1273.9,379.9 L1274.9,380.9 L1275.9,381.8 L1277.0,382.8 L1278.0,383.7 L1279.1,384.6 L1280.2,385.5 L1281.3,386.4 L1282.4,387.2 L1283.5,388.1 L1284.6,388.9 L1285.8,389.7 L1287.0,390.4 L1288.2,391.1 L1289.4,391.9 L1290.6,392.5 L1291.8,393.2 L1293.1,393.8 L1294.4,394.4 L1295.6,394.9 L1296.9,395.5 L1298.2,396.0 L1299.6,396.4 L1300.9,396.8 L1302.3,397.2 L1303.6,397.5 L1305.0,397.7 L1306.4,397.9 L1307.8,398.1 L1309.2,398.2 L1310.6,398.3 L1312.0,398.3 L1313.4,398.3 L1314.8,398.2 L1316.2,398.2 L1317.5,398.0 L1318.9,397.9 L1320.3,397.7 L1321.7,397.4 L1323.0,397.1 L1324.4,396.7 L1325.7,396.3 L1327.1,395.9 L1328.4,395.5 L1329.8,395.2 L1331.1,394.8 L1332.5,394.5 L1333.9,394.1 L1335.2,393.8 L1336.6,393.5 L1337.9,393.1 L1339.2,392.6 L1340.5,392.1 L1341.8,391.5 L1343.0,390.8 L1344.1,390.2 L1345.0,389.7 L1345.4,389.5" fill="none" stroke="#ff0000" stroke-width="2.6" stroke-linejoin="round"/>
<path d="M800.9,431.0 L801.7,431.3 L802.9,431.6 L804.2,431.9 L805.5,432.3 L806.9,432.6 L808.2,432.9 L809.6,433.1 L811.0,433.3 L812.4,433.3 L813.8,433.4 L815.2,433.3 L816.6,433.3 L818.0,433.2 L819.4,433.0 L820.8,432.9 L822.2,432.7 L823.5,432.5 L824.9,432.3 L826.3,432.1 L827.7,431.9 L829.1,431.6 L830.4,431.4 L831.8,431.1 L833.2,430.8 L834.5,430.5 L835.9,430.2 L837.3,429.8 L838.6,429.5 L840.0,429.1 L841.3,428.7 L842.7,428.4 L844.0,428.0 L845.4,427.6 L846.7,427.2 L848.1,426.9 L849.4,426.5 L850.8,426.1 L852.1,425.7 L853.5,425.4 L854.8,425.0 L856.1,424.6 L857.5,424.1 L858.8,423.7 L860.1,423.3 L861.5,422.8 L862.8,422.4 L864.1,421.9 L865.4,421.4 L866.7,420.9 L868.0,420.4 L869.3,419.8 L870.6,419.3 L871.9,418.7 L873.2,418.2 L874.5,417.6 L875.8,417.1 L877.1,416.6 L878.4,416.1 L879.7,415.7 L881.0,415.2 L882.4,414.9 L883.7,414.5 L885.1,414.2 L886.5,414.0 L887.8,413.7 L889.2,413.4 L890.6,413.0 L891.9,412.6 L893.2,412.1 L894.5,411.6 L895.8,411.0 L897.0,410.3 L898.2,409.6 L899.4,408.9 L900.6,408.1 L901.8,407.4 L903.0,406.7 L904.2,406.0 L905.4,405.3 L906.7,404.7 L907.9,404.1 L909.2,403.5 L910.5,402.9 L911.8,402.4 L913.0,401.8 L914.3,401.3 L915.7,400.8 L917.0,400.4 L918.3,399.9 L919.6,399.5 L921.0,399.2 L922.4,398.9 L923.7,398.6 L925.1,398.3 L926.5,397.9 L927.8,397.6 L929.2,397.3 L930.5,396.9 L931.9,396.6 L933.2,396.3 L934.6,396.0 L936.0,395.9 L937.4,395.9 L938.8,396.0 L940.1,396.3 L941.5,396.7 L942.8,397.1 L944.1,397.7 L945.3,398.3 L946.5,399.0 L947.8,399.7 L949.0,400.3 L950.3,400.9 L951.6,401.4 L952.9,401.9 L954.2,402.3 L955.6,402.7 L956.9,403.1 L958.2,403.5 L959.6,403.9 L960.9,404.3 L962.3,404.7 L963.6,405.1 L964.9,405.6 L966.3,406.0 L967.6,406.4 L968.9,406.9 L970.2,407.4 L971.6,407.8 L972.9,408.2 L974.2,408.7 L975.6,409.0 L976.9,409.4 L978.3,409.7 L979.7,409.9 L981.1,410.1 L982.5,410.2 L983.9,410.3 L985.3,410.4 L986.7,410.4 L988.1,410.4 L989.5,410.5 L990.9,410.5 L992.3,410.6 L993.7,410.6 L995.1,410.6 L996.5,410.7 L997.8,410.8 L999.2,410.9 L1000.6,411.2 L1001.9,411.6 L1003.2,412.1 L1004.5,412.6 L1005.8,413.1 L1007.1,413.5 L1008.5,413.7 L1009.9,413.9 L1011.3,413.9 L1012.7,414.0 L1014.1,413.9 L1015.5,413.9 L1016.9,413.8 L1018.3,413.8 L1019.7,413.8 L1021.1,413.9 L1022.5,414.0 L1023.8,414.3 L1025.2,414.6 L1026.6,414.9 L1027.9,415.1 L1029.3,415.3 L1030.7,415.3 L1032.0,415.1 L1033.4,414.8 L1034.7,414.4 L1036.1,414.0 L1037.4,413.6 L1038.8,413.3 L1040.1,412.9 L1041.5,412.6 L1042.8,412.2 L1044.2,411.8 L1045.5,411.3 L1046.8,410.7 L1048.0,410.1 L1049.3,409.5 L1050.5,408.9 L1051.8,408.5 L1053.2,408.0 L1054.5,407.6 L1055.8,407.1 L1057.1,406.6 L1058.3,405.9 L1059.5,405.2 L1060.7,404.5 L1061.9,403.8 L1063.2,403.1 L1064.4,402.5 L1065.7,401.9 L1066.9,401.2 L1068.1,400.5 L1069.2,399.7 L1070.3,398.8 L1071.3,397.8 L1072.3,396.9 L1073.3,395.9 L1074.2,394.8 L1075.1,393.8 L1076.0,392.6 L1076.8,391.5 L1077.5,390.3 L1078.3,389.2 L1079.0,388.0 L1079.7,386.8 L1080.5,385.6 L1081.2,384.4 L1082.0,383.2 L1082.8,382.1 L1083.6,380.9 L1084.4,379.8 L1085.3,378.7 L1086.2,377.6 L1087.0,376.5 L1087.9,375.4 L1088.7,374.3 L1089.5,373.1 L1090.3,372.0 L1091.1,370.8 L1091.8,369.6 L1092.6,368.4 L1093.3,367.2 L1094.0,366.0 L1094.7,364.8 L1095.5,363.6 L1096.2,362.4 L1096.9,361.2 L1097.6,360.0 L1098.3,358.8 L1099.1,357.6 L1099.8,356.4 L1100.5,355.2 L1101.2,354.0 L1101.9,352.8 L1102.6,351.6 L1103.3,350.4 L1103.9,349.1 L1104.6,347.9 L1105.3,346.7 L1106.0,345.4 L1106.6,344.2 L1107.3,343.0 L1108.0,341.8 L1108.7,340.6 L1109.4,339.3 L1110.1,338.1 L1110.8,336.9 L1111.5,335.7 L1112.2,334.5 L1113.0,333.3 L1113.7,332.1 L1114.4,330.9 L1115.1,329.7 L1115.8,328.5 L1116.4,327.2 L1117.0,326.0 L1117.7,324.7 L1118.3,323.5 L1118.8,322.2 L1119.4,320.9 L1120.0,319.7 L1120.6,318.4 L1121.2,317.1 L1121.8,315.9 L1122.4,314.6 L1123.1,313.3 L1123.7,312.1 L1124.3,310.8 L1124.9,309.6 L1125.6,308.4 L1126.3,307.1 L1126.9,305.9 L1127.6,304.7 L1128.3,303.4 L1129.0,302.2 L1129.7,301.0 L1130.3,299.8 L1131.0,298.6 L1131.7,297.3 L1132.3,296.1 L1133.0,294.8 L1133.6,293.6 L1134.2,292.3 L1134.8,291.1 L1135.5,289.8 L1136.1,288.6 L1136.6,287.3 L1137.2,286.0 L1137.8,284.8 L1138.4,283.5 L1139.0,282.2 L1139.5,280.9 L1140.1,279.6 L1140.7,278.4 L1141.2,277.1 L1141.7,275.8 L1142.3,274.5 L1142.8,273.2 L1143.3,271.9 L1143.8,270.6 L1144.3,269.3 L1144.8,268.0 L1145.4,266.7 L1145.9,265.4 L1146.4,264.1 L1146.9,262.8 L1147.4,261.5 L1147.9,260.2 L1148.4,258.9 L1149.0,257.6 L1149.5,256.3 L1150.0,255.0 L1150.6,253.7 L1151.1,252.4 L1151.7,251.1 L1152.2,249.8 L1152.8,248.5 L1153.4,247.3 L1154.0,246.0 L1154.6,244.7 L1155.2,243.5 L1155.8,242.2 L1156.5,241.0 L1157.2,239.8 L1158.0,238.7 L1158.9,237.6 L1159.9,236.6 L1160.9,235.7 L1162.1,234.9 L1163.3,234.2 L1164.5,233.6 L1165.8,233.2 L1167.2,232.9 L1168.6,232.8 L1169.9,232.9 L1171.2,233.2 L1172.5,233.8 L1173.7,234.4 L1174.9,235.2 L1176.0,236.1 L1177.1,236.9 L1178.1,237.8 L1179.2,238.7 L1180.4,239.5 L1181.5,240.3 L1182.7,241.1 L1183.8,242.0 L1184.8,242.9 L1185.8,243.9 L1186.7,244.9 L1187.6,246.0 L1188.3,247.2 L1189.0,248.4 L1189.7,249.6 L1190.3,250.9 L1190.9,252.2 L1191.5,253.4 L1192.2,254.7 L1192.8,255.9 L1193.5,257.1 L1194.1,258.4 L1194.8,259.6 L1195.5,260.8 L1196.2,262.0 L1196.9,263.2 L1197.6,264.4 L1198.3,265.7 L1198.9,266.9 L1199.5,268.2 L1200.1,269.5 L1200.6,270.8 L1201.1,272.1 L1201.5,273.4 L1202.0,274.7 L1202.4,276.0 L1202.9,277.4 L1203.4,278.7 L1203.8,280.0 L1204.3,281.3 L1204.7,282.7 L1205.2,284.0 L1205.7,285.3 L1206.2,286.6 L1206.7,287.9 L1207.2,289.2 L1207.7,290.5 L1208.3,291.8 L1208.8,293.1 L1209.3,294.4 L1209.8,295.7 L1210.3,297.0 L1210.8,298.3 L1211.2,299.6 L1211.7,301.0 L1212.2,302.3 L1212.7,303.6 L1213.2,304.9 L1213.7,306.2 L1214.2,307.5 L1214.7,308.8 L1215.2,310.1 L1215.7,311.4 L1216.2,312.8 L1216.7,314.1 L1217.2,315.4 L1217.7,316.7 L1218.2,318.0 L1218.7,319.3 L1219.1,320.6 L1219.6,321.9 L1220.1,323.2 L1220.5,324.6 L1221.0,325.9 L1221.4,327.2 L1221.9,328.5 L1222.4,329.9 L1222.9,331.2 L1223.4,332.5 L1223.9,333.8 L1224.5,335.0 L1225.0,336.3 L1225.6,337.6 L1226.2,338.9 L1226.8,340.2 L1227.3,341.4 L1227.9,342.7 L1228.4,344.0 L1229.0,345.3 L1229.5,346.6 L1230.1,347.9 L1230.7,349.1 L1231.2,350.4 L1231.8,351.7 L1232.4,353.0 L1233.0,354.2 L1233.6,355.5 L1234.2,356.8 L1234.8,358.0 L1235.5,359.3 L1236.2,360.5 L1236.9,361.6 L1237.7,362.8 L1238.6,363.9 L1239.5,365.0 L1240.4,366.0 L1241.3,367.1 L1242.2,368.2 L1243.1,369.2 L1244.1,370.2 L1245.0,371.3 L1245.9,372.3 L1246.8,373.4 L1247.7,374.5 L1248.5,375.7 L1249.3,376.8 L1250.1,378.0 L1250.9,379.1 L1251.8,380.2 L1252.7,381.2 L1253.7,382.2 L1254.7,383.1 L1255.8,384.0 L1257.0,384.8 L1258.1,385.7 L1259.2,386.5 L1260.2,387.5 L1261.2,388.4 L1262.3,389.4 L1263.3,390.3 L1264.3,391.3 L1265.4,392.1 L1266.5,393.0 L1267.6,393.8 L1268.8,394.6 L1269.9,395.4 L1271.1,396.2 L1272.1,397.1 L1273.2,398.0 L1274.2,399.0 L1275.3,399.9 L1276.4,400.7 L1277.6,401.5 L1278.8,402.2 L1280.0,402.9 L1281.3,403.5 L1282.5,404.0 L1283.9,404.5 L1285.2,404.8 L1286.6,405.1 L1288.0,405.3 L1289.3,405.4 L1290.7,405.6 L1292.1,405.8 L1293.5,406.1 L1294.8,406.5 L1296.1,407.0 L1297.4,407.5 L1298.8,407.9 L1300.1,408.2 L1301.5,408.5 L1302.9,408.5 L1304.3,408.5 L1305.6,408.5 L1307.0,408.3 L1308.4,408.1 L1309.8,407.7 L1311.1,407.3 L1312.4,406.8 L1313.7,406.2 L1314.9,405.7 L1316.2,405.1 L1317.5,404.7 L1318.9,404.3 L1320.3,404.0 L1321.6,403.7 L1323.0,403.5 L1324.4,403.2 L1325.8,403.0 L1327.1,402.7 L1328.5,402.5 L1329.9,402.2 L1331.3,401.9 L1332.6,401.6 L1334.0,401.4 L1335.4,401.1 L1336.7,400.8 L1338.1,400.6 L1339.5,400.3 L1340.9,400.0 L1342.2,399.8 L1343.6,399.5 L1344.7,399.3 L1345.6,399.2" fill="none" stroke="#0000ff" stroke-width="2.6" stroke-linejoin="round"/>
<line x1="120.2" y1="1385.7" x2="628.4" y2="1385.7" stroke="#000" stroke-width="2"/>
<line x1="121.2" y1="1385.7" x2="121.2" y2="1393.0" stroke="#000" stroke-width="2"/>
<line x1="154.94666666666666" y1="1385.7" x2="154.94666666666666" y2="1393.0" stroke="#000" stroke-width="2"/>
<line x1="188.69333333333333" y1="1385.7" x2="188.69333333333333" y2="1393.0" stroke="#000" stroke-width="2"/>
<line x1="222.44" y1="1385.7" x2="222.44" y2="1393.0" stroke="#000" stroke-width="2"/>
<line x1="256.18666666666667" y1="1385.7" x2="256.18666666666667" y2="1393.0" stroke="#000" stroke-width="2"/>
<line x1="289.93333333333334" y1="1385.7" x2="289.93333333333334" y2="1393.0" stroke="#000" stroke-width="2"/>
<line x1="323.67999999999995" y1="1385.7" x2="323.67999999999995" y2="1393.0" stroke="#000" stroke-width="2"/>
<line x1="357.4266666666666" y1="1385.7" x2="357.4266666666666" y2="1393.0" stroke="#000" stroke-width="2"/>
<line x1="391.1733333333333" y1="1385.7" x2="391.1733333333333" y2="1393.0" stroke="#000" stroke-width="2"/>
<line x1="424.91999999999996" y1="1385.7" x2="424.91999999999996" y2="1393.0" stroke="#000" stroke-width="2"/>
<line x1="458.66666666666663" y1="1385.7" x2="458.66666666666663" y2="1393.0" stroke="#000" stroke-width="2"/>
<line x1="492.4133333333333" y1="1385.7" x2="492.4133333333333" y2="1393.0" stroke="#000" stroke-width="2"/>
<line x1="526.16" y1="1385.7" x2="526.16" y2="1393.0" stroke="#000" stroke-width="2"/>
<line x1="559.9066666666666" y1="1385.7" x2="559.9066666666666" y2="1393.0" stroke="#000" stroke-width="2"/>
<line x1="593.6533333333333" y1="1385.7" x2="593.6533333333333" y2="1393.0" stroke="#000" stroke-width="2"/>
<line x1="627.4" y1="1385.7" x2="627.4" y2="1393.0" stroke="#000" stroke-width="2"/>
<line x1="121.2" y1="1385.7" x2="121.2" y2="1394.5" stroke="#000" stroke-width="2"/>
<line x1="289.93333333333334" y1="1385.7" x2="289.93333333333334" y2="1394.5" stroke="#000" stroke-width="2"/>
<line x1="458.66666666666663" y1="1385.7" x2="458.66666666666663" y2="1394.5" stroke="#000" stroke-width="2"/>
<line x1="627.4" y1="1385.7" x2="627.4" y2="1394.5" stroke="#000" stroke-width="2"/>
<text x="121.2" y="1432" font-size="31.5" font-family='"Liberation Sans", sans-serif' text-anchor="middle" fill="#000">40</text>
<text x="289.9" y="1432" font-size="31.5" font-family='"Liberation Sans", sans-serif' text-anchor="middle" fill="#000">30</text>
<text x="458.6" y="1432" font-size="31.5" font-family='"Liberation Sans", sans-serif' text-anchor="middle" fill="#000">20</text>
<text x="627.4" y="1432" font-size="31.5" font-family='"Liberation Sans", sans-serif' text-anchor="middle" fill="#000">10</text>
<text x="330.4" y="1479.4" font-size="36" font-family='"Liberation Serif", serif' fill="#000">&#948;</text>
<text x="347.9" y="1486.4" font-size="22" font-family='"Liberation Sans", sans-serif' fill="#000">C</text>
<text x="374.4" y="1479.4" font-size="34.5" font-family='"Liberation Sans", sans-serif' fill="#000">[ppm]</text>
<line x1="835.9" y1="1387" x2="1344.2" y2="1387" stroke="#000" stroke-width="2"/>
<line x1="836.9" y1="1387" x2="836.9" y2="1394.3" stroke="#000" stroke-width="2"/>
<line x1="870.6533333333333" y1="1387" x2="870.6533333333333" y2="1394.3" stroke="#000" stroke-width="2"/>
<line x1="904.4066666666666" y1="1387" x2="904.4066666666666" y2="1394.3" stroke="#000" stroke-width="2"/>
<line x1="938.16" y1="1387" x2="938.16" y2="1394.3" stroke="#000" stroke-width="2"/>
<line x1="971.9133333333333" y1="1387" x2="971.9133333333333" y2="1394.3" stroke="#000" stroke-width="2"/>
<line x1="1005.6666666666666" y1="1387" x2="1005.6666666666666" y2="1394.3" stroke="#000" stroke-width="2"/>
<line x1="1039.42" y1="1387" x2="1039.42" y2="1394.3" stroke="#000" stroke-width="2"/>
<line x1="1073.1733333333334" y1="1387" x2="1073.1733333333334" y2="1394.3" stroke="#000" stroke-width="2"/>
<line x1="1106.9266666666667" y1="1387" x2="1106.9266666666667" y2="1394.3" stroke="#000" stroke-width="2"/>
<line x1="1140.68" y1="1387" x2="1140.68" y2="1394.3" stroke="#000" stroke-width="2"/>
<line x1="1174.4333333333334" y1="1387" x2="1174.4333333333334" y2="1394.3" stroke="#000" stroke-width="2"/>
<line x1="1208.1866666666667" y1="1387" x2="1208.1866666666667" y2="1394.3" stroke="#000" stroke-width="2"/>
<line x1="1241.94" y1="1387" x2="1241.94" y2="1394.3" stroke="#000" stroke-width="2"/>
<line x1="1275.6933333333334" y1="1387" x2="1275.6933333333334" y2="1394.3" stroke="#000" stroke-width="2"/>
<line x1="1309.4466666666667" y1="1387" x2="1309.4466666666667" y2="1394.3" stroke="#000" stroke-width="2"/>
<line x1="1343.2" y1="1387" x2="1343.2" y2="1394.3" stroke="#000" stroke-width="2"/>
<line x1="836.9" y1="1387" x2="836.9" y2="1395.8" stroke="#000" stroke-width="2"/>
<line x1="1005.6666666666666" y1="1387" x2="1005.6666666666666" y2="1395.8" stroke="#000" stroke-width="2"/>
<line x1="1174.4333333333334" y1="1387" x2="1174.4333333333334" y2="1395.8" stroke="#000" stroke-width="2"/>
<line x1="1343.2" y1="1387" x2="1343.2" y2="1395.8" stroke="#000" stroke-width="2"/>
<text x="836.9" y="1432" font-size="31.5" font-family='"Liberation Sans", sans-serif' text-anchor="middle" fill="#000">40</text>
<text x="1005.7" y="1432" font-size="31.5" font-family='"Liberation Sans", sans-serif' text-anchor="middle" fill="#000">30</text>
<text x="1174.4" y="1432" font-size="31.5" font-family='"Liberation Sans", sans-serif' text-anchor="middle" fill="#000">20</text>
<text x="1343.2" y="1432" font-size="31.5" font-family='"Liberation Sans", sans-serif' text-anchor="middle" fill="#000">10</text>
<text x="1041.7" y="1479.2" font-size="36" font-family='"Liberation Serif", serif' fill="#000">&#948;</text>
<text x="1059.2" y="1486.2" font-size="22" font-family='"Liberation Sans", sans-serif' fill="#000">C</text>
<text x="1085.7" y="1479.2" font-size="34.5" font-family='"Liberation Sans", sans-serif' fill="#000">[ppm]</text>
<line x1="226.8" y1="797.5" x2="226.8" y2="1401" stroke="#3b649c" stroke-width="1.8" stroke-dasharray="6,4.2"/>
<line x1="248.1" y1="752" x2="248.1" y2="1401" stroke="#3b649c" stroke-width="1.8" stroke-dasharray="6,4.2"/>
<line x1="295.5" y1="705" x2="295.5" y2="1401" stroke="#3b649c" stroke-width="1.8" stroke-dasharray="6,4.2"/>
<line x1="377.3" y1="705" x2="377.3" y2="1401" stroke="#3b649c" stroke-width="1.8" stroke-dasharray="6,4.2"/>
<line x1="544.4" y1="814" x2="544.4" y2="1401" stroke="#3b649c" stroke-width="1.8" stroke-dasharray="6,4.2"/>
<line x1="941.4" y1="768" x2="941.4" y2="1401" stroke="#3b649c" stroke-width="1.8" stroke-dasharray="6,4.2"/>
<line x1="961.1" y1="786" x2="961.1" y2="1401" stroke="#3b649c" stroke-width="1.8" stroke-dasharray="6,4.2"/>
<line x1="1004.1" y1="683" x2="1004.1" y2="1401" stroke="#3b649c" stroke-width="1.8" stroke-dasharray="6,4.2"/>
<line x1="1090.6" y1="705.5" x2="1090.6" y2="1401" stroke="#3b649c" stroke-width="1.8" stroke-dasharray="6,4.2"/>
<line x1="1258.6" y1="743" x2="1258.6" y2="1401" stroke="#3b649c" stroke-width="1.8" stroke-dasharray="6,4.2"/>
<text x="98.1" y="716.7" font-size="35" font-family='"Liberation Sans", sans-serif' text-anchor="start" fill="#000">33 ppm</text>
<text x="57.8" y="774.3" font-size="35" font-family='"Liberation Sans", sans-serif' text-anchor="start" fill="#000">34 ppm</text>
<text x="346.7" y="689.2" font-size="35" font-family='"Liberation Sans", sans-serif' text-anchor="start" fill="#000">30 ppm</text>
<text x="431.3" y="748.5" font-size="35" font-family='"Liberation Sans", sans-serif' text-anchor="start" fill="#000">25 ppm</text>
<text x="575.1" y="779" font-size="35" font-family='"Liberation Sans", sans-serif' text-anchor="start" fill="#000">15 ppm</text>
<text x="51" y="851.8" font-size="35" font-family='"Liberation Sans", sans-serif' text-anchor="start" fill="#00a650" font-style="italic">glys</text>
<text x="52" y="953.8" font-size="35" font-family='"Liberation Sans", sans-serif' text-anchor="start" fill="#0000ff" font-style="italic">atp</text>
<text x="52.5" y="1049.7" font-size="35" font-family='"Liberation Sans", sans-serif' text-anchor="start" fill="#ff0000" font-style="italic">ldlr</text>
<text x="52" y="1255.7" font-size="35" font-family='"Liberation Sans", sans-serif' text-anchor="start" fill="#000">control</text>
<text x="52" y="1348.8" font-size="35" font-family='"Liberation Sans", sans-serif' text-anchor="start" fill="#000">natural abundance</text>
<path d="M741.4,602.6 Q723.80,632.70 741.4,662.8 L745.1,662.8 Q732.50,632.70 745.1,602.6 Z M783.5,602.6 Q796.50,632.70 783.5,662.8 L787.1,662.8 Q804.70,632.70 787.1,602.6 Z" fill="#000"/>
<text x="749.6" y="652.6" font-size="67" font-family='"Liberation Sans", sans-serif' text-anchor="start" fill="#000" textLength="30.3" lengthAdjust="spacingAndGlyphs">c</text>
<text x="824.0" y="676.5" font-size="35" font-family='"Liberation Sans", sans-serif' text-anchor="start" fill="#000">30 ppm</text>
<text x="808.5" y="731.5" font-size="35" font-family='"Liberation Sans", sans-serif' text-anchor="start" fill="#000">33 ppm</text>
<text x="763.6" y="775" font-size="35" font-family='"Liberation Sans", sans-serif' text-anchor="start" fill="#000">34 ppm</text>
<text x="1040.8" y="683.3" font-size="35" font-family='"Liberation Sans", sans-serif' text-anchor="start" fill="#000">25 ppm</text>
<text x="1293.3" y="702.3" font-size="35" font-family='"Liberation Sans", sans-serif' text-anchor="start" fill="#000">15 ppm</text>
<text x="764" y="851.1" font-size="35" font-family='"Liberation Sans", sans-serif' text-anchor="start" fill="#00a650" font-style="italic">glys</text>
<text x="765" y="953.3" font-size="35" font-family='"Liberation Sans", sans-serif' text-anchor="start" fill="#0000ff" font-style="italic">atp</text>
<text x="765" y="1049.7" font-size="35" font-family='"Liberation Sans", sans-serif' text-anchor="start" fill="#ff0000" font-style="italic">ldlr</text>
<text x="764" y="1284.7" font-size="35" font-family='"Liberation Sans", sans-serif' text-anchor="start" fill="#000">control</text>
<path d="M177.5,770.6 C195,768 208,776 214,786" fill="none" stroke="#000" stroke-width="1.8"/>
<path d="M219.5,793.2 L207.1,788.6 L214.9,780.8 Z" fill="#000"/>
<path d="M225.1,714.1 C238,718 246,728 248.5,740" fill="none" stroke="#000" stroke-width="1.8"/>
<path d="M249.8,750.1 L242.7,739.0 L253.6,737.5 Z" fill="#000"/>
<path d="M337.8,683.2 C322,684 310,690 305,697" fill="none" stroke="#000" stroke-width="1.8"/>
<path d="M300.8,704.0 L303.2,691.0 L312.2,697.3 Z" fill="#000"/>
<path d="M419.4,737.5 C405,737 392,741 386,748" fill="none" stroke="#000" stroke-width="1.8"/>
<path d="M380.9,754.4 L385.5,742.0 L393.3,749.8 Z" fill="#000"/>
<path d="M567.2,783.5 C558,788 551,796 547,804" fill="none" stroke="#000" stroke-width="1.8"/>
<path d="M544.0,812.6 L542.9,799.4 L553.3,803.2 Z" fill="#000"/>
<path d="M942.5,666.2 C962,664 980,668 990,678" fill="none" stroke="#000" stroke-width="1.8"/>
<path d="M995.9,683.1 L983.2,679.6 L990.2,671.2 Z" fill="#000"/>
<path d="M926.6,735.5 C940,738 950,744 954,750" fill="none" stroke="#000" stroke-width="1.8"/>
<path d="M958.3,755.2 L946.4,749.5 L954.8,742.5 Z" fill="#000"/>
<path d="M885.1,765.1 C902,762 918,766 926,771" fill="none" stroke="#000" stroke-width="1.8"/>
<path d="M932.6,775.0 L919.5,773.8 L925.0,764.2 Z" fill="#000"/>
<path d="M1066.8,697.7 C1068,712 1074,722 1081,729" fill="none" stroke="#000" stroke-width="1.8"/>
<path d="M1085.9,733.2 L1073.5,728.6 L1081.3,720.8 Z" fill="#000"/>
<path d="M1289,705.9 C1280,710 1273,718 1269,727" fill="none" stroke="#000" stroke-width="1.8"/>
<path d="M1266.6,735.1 L1264.4,722.1 L1275.0,724.9 Z" fill="#000"/>
<path d="M112.0,1299.7 C112.8,1298.9 114.9,1295.5 116.9,1294.8 C118.9,1294.1 121.6,1294.5 124.0,1295.5 C126.4,1296.5 128.5,1299.6 131.1,1301.1 C133.7,1302.6 136.9,1304.1 139.5,1304.7 C142.1,1305.3 144.0,1305.1 146.6,1304.7 C149.2,1304.3 152.0,1302.2 155.1,1302.5 C158.2,1302.8 161.9,1307.0 165.0,1306.8 C168.1,1306.6 170.1,1303.0 173.4,1301.1 C176.7,1299.2 181.9,1297.4 184.7,1295.5 C187.5,1293.6 188.0,1291.8 190.4,1289.8 C192.8,1287.8 195.6,1286.2 198.9,1283.5 C202.2,1280.8 207.6,1277.0 210.2,1273.6 C212.8,1270.2 213.0,1268.1 214.4,1263.0 C215.8,1257.9 217.2,1250.7 218.6,1243.2 C220.0,1235.7 221.7,1225.1 222.9,1217.8 C224.1,1210.5 224.9,1203.2 225.7,1199.4 C226.5,1195.6 227.1,1194.0 227.8,1195.2 C228.5,1196.4 229.1,1201.3 229.9,1206.5 C230.7,1211.7 231.7,1220.4 232.8,1226.3 C233.9,1232.2 234.9,1238.5 236.3,1241.8 C237.7,1245.1 239.0,1244.3 241.2,1246.0 C243.4,1247.7 246.8,1250.5 249.7,1251.7 C252.6,1252.9 255.9,1251.0 258.5,1253.4 C261.1,1255.8 263.1,1263.4 265.5,1266.2 C267.9,1269.0 270.5,1270.7 272.6,1270.4 C274.7,1270.2 276.3,1269.4 278.2,1264.7 C280.1,1260.0 282.0,1251.0 283.9,1242.1 C285.8,1233.2 288.1,1218.3 289.5,1211.1 C290.9,1203.9 290.9,1201.9 292.0,1199.0 C293.1,1196.1 294.6,1195.0 296.0,1193.8 C297.4,1192.6 298.9,1190.8 300.2,1192.0 C301.5,1193.2 302.6,1196.6 303.7,1201.2 C304.8,1205.8 305.6,1213.6 306.5,1219.5 C307.4,1225.4 308.1,1231.3 309.3,1236.5 C310.5,1241.7 312.0,1246.4 313.6,1250.6 C315.2,1254.8 317.1,1260.4 319.2,1261.9 C321.3,1263.4 324.2,1260.7 326.3,1259.8 C328.4,1258.9 330.0,1258.9 331.9,1256.3 C333.8,1253.7 336.0,1245.2 337.6,1244.3 C339.2,1243.3 339.9,1247.7 341.8,1250.6 C343.7,1253.5 346.5,1261.4 348.9,1261.9 C351.2,1262.4 353.8,1257.2 355.9,1253.4 C358.0,1249.6 360.0,1243.5 361.6,1239.3 C363.2,1235.1 363.9,1230.7 365.8,1228.0 C367.7,1225.3 370.3,1224.1 372.9,1223.1 C375.5,1222.0 378.8,1220.9 381.4,1221.7 C384.0,1222.5 386.5,1226.0 388.4,1228.0 C390.3,1230.0 391.3,1230.6 392.7,1233.7 C394.1,1236.8 395.3,1243.4 396.9,1246.4 C398.5,1249.5 400.4,1250.8 402.5,1252.0 C404.6,1253.2 407.2,1253.4 409.6,1253.4 C412.0,1253.4 414.6,1250.8 416.7,1252.0 C418.8,1253.2 420.2,1257.2 422.3,1260.5 C424.4,1263.8 427.3,1268.5 429.4,1271.8 C431.5,1275.1 433.1,1277.0 435.0,1280.3 C436.9,1283.6 438.4,1289.4 440.7,1291.6 C442.9,1293.8 446.0,1293.0 448.5,1293.2 C451.0,1293.4 453.3,1291.9 455.5,1292.5 C457.7,1293.1 460.0,1296.6 461.9,1296.8 C463.8,1297.0 464.8,1293.8 466.8,1293.9 C468.8,1294.0 471.3,1296.3 473.9,1297.5 C476.5,1298.7 480.3,1299.8 482.4,1301.0 C484.5,1302.2 485.2,1302.5 486.6,1304.5 C488.0,1306.5 489.2,1310.5 490.8,1313.0 C492.4,1315.5 494.4,1318.0 496.5,1319.4 C498.6,1320.8 501.5,1320.7 503.6,1321.5 C505.7,1322.3 507.3,1324.4 509.2,1324.3 C511.1,1324.2 513.2,1321.5 514.9,1320.8 C516.5,1320.1 517.5,1319.8 519.1,1320.1 C520.7,1320.4 522.6,1323.4 524.7,1322.9 C526.8,1322.4 529.4,1318.0 531.8,1317.2 C534.2,1316.4 536.5,1318.5 538.9,1317.9 C541.2,1317.3 543.5,1313.3 545.9,1313.7 C548.2,1314.1 550.6,1317.6 553.0,1320.1 C555.4,1322.6 557.8,1326.6 560.1,1328.5 C562.5,1330.4 565.2,1329.5 567.1,1331.4 C569.0,1333.3 569.8,1336.5 571.4,1339.8 C573.0,1343.1 575.1,1348.5 577.0,1351.1 C578.9,1353.7 580.6,1355.2 582.7,1355.4 C584.8,1355.6 587.4,1353.0 589.7,1352.5 C592.1,1352.0 594.7,1352.2 596.8,1352.5 C598.9,1352.8 600.3,1352.8 602.4,1354.0 C604.5,1355.2 606.9,1358.0 609.5,1359.6 C612.1,1361.2 615.6,1363.0 618.0,1363.8 C620.4,1364.6 621.5,1363.7 623.6,1364.5 C625.7,1365.3 629.5,1368.1 630.7,1368.8" fill="none" stroke="#000000" stroke-width="3.0" stroke-linejoin="round" stroke-dasharray="4.00,7.50" stroke-linecap="round"/>
<path d="M120.5,1278.5 C121.8,1278.3 125.8,1277.0 128.2,1277.1 C130.5,1277.2 132.5,1279.4 134.6,1279.2 C136.7,1279.0 138.8,1275.9 141.0,1275.7 C143.2,1275.5 145.7,1277.1 148.0,1277.8 C150.3,1278.5 153.0,1280.1 155.1,1279.9 C157.2,1279.7 158.8,1277.3 160.7,1276.4 C162.6,1275.5 164.5,1274.9 166.4,1274.6 C168.3,1274.2 170.1,1275.2 172.0,1274.3 C173.9,1273.4 175.6,1272.2 177.7,1269.4 C179.8,1266.6 182.6,1260.4 184.7,1257.3 C186.8,1254.2 188.5,1253.3 190.4,1251.0 C192.3,1248.7 194.1,1246.4 196.0,1243.2 C197.9,1240.0 200.3,1234.5 201.7,1231.9 C203.1,1229.3 203.3,1229.8 204.2,1227.7 C205.1,1225.6 205.9,1222.7 207.3,1219.2 C208.7,1215.7 210.8,1213.4 212.7,1206.6 C214.5,1199.8 216.8,1190.1 218.4,1178.3 C220.1,1166.5 221.4,1150.0 222.6,1135.9 C223.8,1121.8 224.6,1106.5 225.4,1093.6 C226.2,1080.6 226.8,1067.3 227.5,1058.2 C228.2,1049.1 228.9,1040.4 229.7,1039.2 C230.5,1038.0 231.7,1042.1 232.5,1051.2 C233.3,1060.3 233.8,1078.3 234.6,1093.6 C235.4,1108.9 235.9,1128.9 237.4,1143.0 C238.9,1157.1 241.6,1167.7 243.8,1178.3 C246.0,1188.9 248.8,1200.7 250.8,1206.6 C252.8,1212.5 253.8,1210.8 255.6,1213.9 C257.4,1217.0 259.4,1221.4 261.3,1225.2 C263.2,1229.0 264.8,1233.3 266.9,1236.5 C269.0,1239.7 271.9,1243.8 274.0,1244.3 C276.1,1244.8 278.1,1242.9 279.7,1239.3 C281.3,1235.7 282.6,1230.2 283.9,1222.4 C285.2,1214.6 286.5,1202.1 287.6,1192.4 C288.7,1182.7 289.2,1172.4 290.4,1164.2 C291.6,1156.0 293.0,1144.9 294.6,1143.0 C296.2,1141.1 298.9,1149.4 300.3,1152.9 C301.7,1156.4 302.2,1158.8 303.1,1164.2 C304.0,1169.6 304.8,1177.6 305.9,1185.4 C307.0,1193.2 308.4,1203.9 309.5,1210.8 C310.6,1217.7 311.4,1223.0 312.3,1227.0 C313.2,1231.0 313.4,1233.5 315.0,1235.1 C316.6,1236.7 319.6,1235.3 322.0,1236.5 C324.4,1237.7 327.2,1242.1 329.1,1242.1 C331.0,1242.1 331.9,1238.7 333.3,1236.5 C334.7,1234.3 336.2,1228.2 337.6,1228.7 C339.0,1229.2 340.2,1236.1 341.8,1239.3 C343.4,1242.5 345.4,1247.6 347.5,1247.8 C349.6,1248.0 352.4,1244.2 354.5,1240.7 C356.6,1237.2 358.6,1232.0 360.2,1226.6 C361.8,1221.2 362.8,1212.9 364.4,1208.2 C366.0,1203.5 368.1,1200.8 370.1,1198.4 C372.1,1196.0 374.5,1193.3 376.6,1193.8 C378.7,1194.3 380.8,1197.8 382.8,1201.2 C384.8,1204.6 386.5,1210.1 388.4,1213.9 C390.3,1217.7 392.2,1220.3 394.1,1223.8 C396.0,1227.3 397.4,1232.9 399.7,1235.1 C402.0,1237.3 405.8,1237.3 408.2,1237.2 C410.6,1237.1 411.9,1232.9 413.8,1234.4 C415.7,1235.9 417.6,1243.0 419.5,1246.4 C421.4,1249.8 423.0,1252.0 425.1,1254.9 C427.2,1257.8 429.8,1262.5 432.2,1264.0 C434.6,1265.5 437.1,1263.7 439.3,1264.0 C441.5,1264.3 443.6,1265.1 445.6,1265.7 C447.6,1266.3 448.9,1268.0 451.3,1267.8 C453.7,1267.6 456.7,1264.5 459.8,1264.3 C462.9,1264.1 467.4,1265.7 469.7,1266.4 C472.0,1267.1 472.0,1267.1 473.9,1268.5 C475.8,1269.9 478.9,1273.5 481.0,1274.9 C483.1,1276.3 484.0,1275.6 486.6,1277.0 C489.2,1278.4 493.4,1282.7 496.5,1283.3 C499.6,1283.9 502.6,1281.4 505.0,1280.5 C507.4,1279.6 508.7,1277.7 510.6,1277.7 C512.5,1277.7 514.2,1280.7 516.3,1280.5 C518.4,1280.3 520.9,1278.0 523.3,1276.3 C525.6,1274.6 528.0,1273.2 530.4,1270.6 C532.8,1268.0 535.7,1262.6 537.5,1260.7 C539.3,1258.8 539.8,1259.1 541.0,1259.3 C542.2,1259.5 543.2,1259.8 544.5,1262.1 C545.8,1264.4 547.1,1269.4 548.8,1273.4 C550.4,1277.4 552.5,1283.1 554.4,1286.2 C556.3,1289.3 558.5,1289.2 560.1,1291.8 C561.8,1294.4 562.7,1298.6 564.3,1301.7 C565.9,1304.8 567.8,1308.2 569.9,1310.2 C572.0,1312.2 574.6,1312.8 577.0,1313.7 C579.4,1314.6 581.8,1316.0 584.1,1315.8 C586.5,1315.6 588.8,1312.4 591.1,1312.3 C593.5,1312.2 596.3,1314.6 598.2,1315.1 C600.1,1315.6 600.8,1314.5 602.4,1315.1 C604.0,1315.7 606.0,1317.8 608.1,1318.6 C610.2,1319.4 613.0,1319.0 615.1,1320.1 C617.2,1321.2 618.8,1324.2 620.8,1325.0 C622.8,1325.8 626.0,1325.0 627.1,1325.0" fill="none" stroke="#000000" stroke-width="3.0" stroke-linejoin="round"/>
<path d="M115.6,1039.6 C117.0,1038.4 121.3,1033.6 124.1,1032.5 C126.9,1031.4 130.2,1032.4 132.6,1033.2 C134.9,1034.0 135.7,1036.1 138.2,1037.5 C140.7,1038.9 144.1,1041.6 147.4,1041.7 C150.7,1041.8 155.2,1038.4 158.0,1038.2 C160.8,1038.0 162.1,1040.5 164.4,1040.3 C166.8,1040.1 169.4,1037.6 172.1,1036.8 C174.8,1036.0 177.8,1036.4 180.6,1035.4 C183.4,1034.5 186.3,1032.5 189.1,1031.1 C191.9,1029.7 195.2,1027.4 197.6,1026.9 C199.9,1026.4 201.1,1027.5 203.2,1028.3 C205.3,1029.1 208.0,1031.7 210.3,1031.8 C212.7,1031.9 215.2,1030.8 217.3,1029.0 C219.4,1027.2 221.1,1023.9 223.0,1021.2 C224.9,1018.5 226.7,1016.8 228.6,1012.8 C230.5,1008.8 232.4,1002.4 234.3,997.2 C236.2,992.0 237.8,985.6 239.9,981.7 C242.0,977.8 245.1,974.6 247.0,973.9 C248.9,973.2 249.5,974.5 251.2,977.5 C252.8,980.5 255.0,987.1 256.9,991.6 C258.8,996.1 260.6,1001.1 262.5,1004.3 C264.4,1007.5 266.3,1010.1 268.2,1010.6 C270.1,1011.1 271.9,1009.6 273.8,1007.1 C275.7,1004.6 277.6,1002.4 279.5,995.8 C281.4,989.2 283.5,977.5 285.1,967.6 C286.8,957.7 288.2,944.3 289.4,936.5 C290.6,928.7 291.6,924.5 292.5,921.0 C293.4,917.5 294.1,915.8 295.0,915.3 C295.9,914.8 297.1,916.1 298.0,918.0 C298.9,919.9 299.6,920.7 300.7,926.6 C301.8,932.5 303.6,946.1 304.9,953.4 C306.2,960.7 307.2,964.8 308.5,970.4 C309.8,976.0 311.1,981.9 312.7,987.3 C314.3,992.7 316.4,999.7 318.4,1002.9 C320.4,1006.1 322.6,1006.9 324.7,1006.4 C326.8,1005.9 328.8,1003.0 331.1,1000.1 C333.5,997.2 336.9,989.9 338.8,988.8 C340.7,987.7 340.9,992.4 342.4,993.7 C343.9,995.0 346.1,997.1 348.0,996.5 C349.9,995.9 351.8,994.6 353.7,990.2 C355.6,985.9 357.2,979.4 359.3,970.4 C361.4,961.4 364.3,946.4 366.4,936.5 C368.5,926.6 370.2,917.6 372.0,911.1 C373.8,904.6 375.6,898.4 377.0,897.7 C378.4,897.0 379.2,900.8 380.5,906.8 C381.8,912.8 383.1,925.2 384.7,933.7 C386.3,942.2 388.5,951.6 390.4,957.7 C392.3,963.8 394.1,965.9 396.0,970.4 C397.9,974.9 399.1,980.9 401.7,984.5 C404.3,988.1 409.0,991.5 411.6,992.3 C414.2,993.1 415.6,989.1 417.2,989.5 C418.8,989.9 419.6,991.2 421.5,994.4 C423.4,997.6 425.9,1004.9 428.5,1008.5 C431.1,1012.1 434.4,1014.5 437.0,1016.3 C439.6,1018.1 442.0,1019.0 444.1,1019.1 C446.2,1019.2 447.6,1016.6 449.7,1017.0 C451.8,1017.4 454.0,1019.8 456.8,1021.2 C459.6,1022.6 464.1,1024.9 466.7,1025.5 C469.3,1026.1 469.7,1023.8 472.3,1024.8 C474.9,1025.8 480.1,1030.1 482.2,1031.8 C484.3,1033.5 483.8,1032.7 485.1,1034.7 C486.4,1036.7 488.1,1041.2 490.2,1043.6 C492.3,1046.0 495.0,1048.4 497.8,1049.3 C500.6,1050.2 504.2,1049.3 506.8,1048.7 C509.4,1048.1 511.2,1045.9 513.1,1045.5 C515.0,1045.1 515.9,1046.8 518.2,1046.2 C520.6,1045.6 524.7,1042.2 527.2,1041.7 C529.8,1041.2 531.6,1043.2 533.5,1043.0 C535.4,1042.8 536.9,1040.4 538.6,1040.4 C540.3,1040.4 541.6,1041.7 543.7,1043.0 C545.8,1044.3 548.9,1045.7 551.4,1048.1 C553.9,1050.5 556.5,1054.3 559.0,1057.6 C561.5,1060.9 564.2,1064.4 566.7,1067.8 C569.2,1071.2 572.0,1075.5 574.3,1078.0 C576.6,1080.5 578.4,1081.4 580.7,1082.5 C583.0,1083.6 585.8,1083.6 588.3,1084.4 C590.8,1085.2 593.5,1088.0 596.0,1087.6 C598.5,1087.2 601.1,1082.6 603.6,1081.8 C606.1,1081.0 608.5,1081.2 611.3,1082.5 C614.1,1083.8 617.2,1087.9 620.2,1089.5 C623.2,1091.1 626.1,1090.3 629.1,1092.0 C632.1,1093.7 636.5,1098.4 638.0,1099.7" fill="none" stroke="#ff0000" stroke-width="3.0" stroke-linejoin="round"/>
<path d="M112.8,945.0 C114.5,944.5 119.4,942.6 122.7,942.1 C126.0,941.6 130.0,941.3 132.6,942.1 C135.2,942.9 135.8,945.8 138.2,947.1 C140.5,948.4 144.1,949.2 146.7,949.9 C149.3,950.6 151.7,951.2 153.8,951.3 C155.9,951.4 157.5,951.0 159.4,950.6 C161.3,950.2 163.0,948.9 165.1,948.9 C167.2,948.9 169.5,950.7 172.1,950.6 C174.7,950.5 177.5,949.5 180.6,948.5 C183.7,947.5 187.7,946.0 190.5,944.7 C193.3,943.4 195.2,941.3 197.6,940.5 C199.9,939.7 202.2,939.1 204.6,940.0 C206.9,940.9 209.1,944.9 211.7,945.7 C214.3,946.5 217.6,945.7 220.2,945.0 C222.8,944.3 225.1,942.5 227.2,941.4 C229.3,940.3 230.8,940.0 232.9,938.6 C235.0,937.2 237.6,934.2 239.9,933.0 C242.2,931.8 244.6,932.1 247.0,931.6 C249.4,931.1 252.0,930.2 254.1,930.1 C256.2,930.0 257.8,930.4 259.7,930.8 C261.6,931.2 263.5,933.0 265.4,932.3 C267.3,931.6 269.1,928.5 271.0,926.6 C272.9,924.7 275.1,923.6 276.7,921.0 C278.3,918.4 279.5,915.6 280.9,911.1 C282.3,906.6 283.8,900.0 285.1,894.1 C286.4,888.2 287.8,881.3 288.7,876.0 C289.6,870.7 290.0,866.7 290.8,862.4 C291.6,858.1 292.6,852.9 293.5,850.0 C294.4,847.1 295.4,845.1 296.4,844.8 C297.4,844.5 298.6,846.2 299.5,848.0 C300.4,849.8 301.2,852.4 302.1,855.4 C303.0,858.4 304.1,861.8 305.0,866.0 C305.9,870.2 306.6,875.6 307.7,880.8 C308.8,886.0 310.0,892.0 311.3,897.0 C312.6,902.0 313.9,907.1 315.5,911.1 C317.1,915.1 319.1,919.2 321.2,921.0 C323.3,922.8 326.1,922.7 328.2,921.7 C330.3,920.8 332.1,917.3 333.9,915.3 C335.7,913.3 336.9,909.8 338.8,909.7 C340.7,909.6 342.9,913.7 345.2,914.6 C347.4,915.5 350.4,915.9 352.3,915.3 C354.2,914.7 355.1,913.9 356.5,911.1 C357.9,908.3 359.3,902.9 360.7,898.4 C362.1,893.9 363.8,889.0 365.0,884.2 C366.2,879.4 366.4,877.6 367.8,869.5 C369.2,861.4 371.8,845.7 373.4,835.6 C375.0,825.5 376.1,810.7 377.4,808.8 C378.7,806.9 380.0,817.7 381.2,824.3 C382.4,830.9 383.2,840.8 384.7,848.3 C386.2,855.8 389.0,864.2 390.4,869.5 C391.8,874.8 391.8,877.1 393.2,880.0 C394.6,882.9 396.3,884.9 398.9,887.1 C401.5,889.3 405.8,893.0 408.8,893.4 C411.9,893.8 414.9,888.9 417.2,889.2 C419.5,889.6 420.8,892.3 422.9,895.5 C425.0,898.7 427.3,903.7 429.9,908.2 C432.5,912.7 435.8,919.7 438.4,922.4 C441.0,925.1 443.4,924.4 445.5,924.5 C447.6,924.6 449.2,923.2 451.1,923.1 C453.0,923.0 454.9,924.0 456.8,923.8 C458.7,923.6 460.3,922.3 462.4,921.7 C464.5,921.1 467.1,921.0 469.5,920.3 C471.9,919.6 474.2,916.1 476.6,917.4 C479.0,918.7 481.1,924.8 483.6,928.0 C486.1,931.2 489.1,934.0 491.5,936.6 C493.9,939.2 495.7,941.7 497.8,943.6 C499.9,945.5 501.9,948.0 504.2,948.0 C506.5,948.0 509.6,944.3 511.9,943.6 C514.2,942.9 516.1,944.9 518.2,944.0 C520.3,943.1 522.1,940.2 524.6,938.5 C527.1,936.8 531.0,934.6 533.5,934.0 C536.0,933.4 538.0,934.2 539.9,934.7 C541.8,935.2 543.1,935.7 545.0,937.2 C546.9,938.7 549.5,941.9 551.4,943.6 C553.3,945.3 554.8,945.5 556.5,947.4 C558.2,949.3 559.9,952.4 561.6,955.0 C563.3,957.6 565.0,961.2 566.7,963.3 C568.4,965.4 569.7,965.7 571.8,967.8 C573.9,969.9 576.9,974.2 579.4,976.1 C581.9,978.0 584.0,978.6 587.0,979.3 C590.0,980.0 593.8,980.5 597.2,980.5 C600.6,980.5 603.8,979.5 607.4,979.3 C611.0,979.1 615.9,978.8 618.9,979.3 C621.9,979.8 623.0,981.2 625.3,982.4 C627.6,983.6 630.8,985.2 632.9,986.3 C635.0,987.4 637.1,988.4 638.0,988.8" fill="none" stroke="#0000ff" stroke-width="3.0" stroke-linejoin="round"/>
<path d="M120.6,854.0 C121.9,854.9 125.7,858.2 128.4,859.6 C131.1,861.0 134.5,862.2 136.8,862.4 C139.2,862.6 139.9,860.8 142.5,861.0 C145.1,861.2 149.3,862.8 152.4,863.8 C155.5,864.8 158.0,866.9 160.8,866.7 C163.6,866.5 166.0,863.7 169.3,862.4 C172.6,861.1 177.3,858.8 180.6,858.9 C183.9,859.0 185.8,862.8 189.1,863.1 C192.4,863.5 197.1,862.0 200.4,861.0 C203.7,860.0 206.1,858.1 208.9,856.8 C211.7,855.5 215.0,854.4 217.3,853.2 C219.7,852.0 221.3,851.7 223.0,849.7 C224.7,847.7 225.8,842.9 227.2,841.2 C228.6,839.6 230.1,840.0 231.5,839.8 C232.9,839.6 233.8,841.7 235.7,839.8 C237.6,837.9 240.9,831.5 242.8,828.5 C244.7,825.5 245.6,823.1 247.0,821.5 C248.4,819.9 249.5,818.6 251.2,818.6 C252.8,818.6 255.2,820.5 256.9,821.5 C258.5,822.5 259.7,822.4 261.1,824.3 C262.5,826.2 263.9,830.6 265.4,832.8 C266.9,835.0 268.6,837.5 270.3,837.7 C272.0,837.9 273.8,836.7 275.3,834.2 C276.8,831.7 278.1,828.3 279.5,822.9 C280.9,817.5 282.3,810.4 283.7,801.7 C285.1,793.0 286.6,781.2 288.0,770.6 C289.4,760.0 290.8,746.0 292.2,738.1 C293.6,730.2 295.0,724.5 296.4,723.3 C297.8,722.1 299.3,726.3 300.7,731.1 C302.1,735.9 303.3,744.2 304.6,752.0 C305.9,759.8 307.1,768.5 308.5,777.7 C309.9,786.9 311.1,799.1 312.7,807.3 C314.3,815.5 316.5,822.9 318.4,827.1 C320.3,831.4 322.1,832.2 324.0,832.8 C325.9,833.4 327.8,832.5 329.7,830.6 C331.6,828.7 333.5,824.7 335.3,821.5 C337.1,818.3 338.7,811.6 340.3,811.6 C341.9,811.6 343.4,818.2 345.2,821.5 C346.9,824.8 348.9,829.6 350.8,831.4 C352.7,833.2 354.6,834.2 356.5,832.1 C358.4,830.0 360.2,823.7 362.1,818.6 C364.0,813.5 365.7,806.6 367.8,801.7 C369.9,796.8 372.8,791.8 374.9,789.0 C377.0,786.2 378.4,784.9 380.5,784.7 C382.6,784.5 385.2,785.7 387.6,787.6 C390.0,789.5 392.2,792.2 394.6,796.0 C397.0,799.8 399.6,807.0 401.7,810.2 C403.8,813.4 405.4,813.8 407.3,815.1 C409.2,816.4 411.4,817.5 413.0,817.9 C414.6,818.2 415.6,815.9 417.2,817.2 C418.8,818.5 420.5,822.4 422.9,825.7 C425.3,829.0 429.0,833.5 431.4,837.0 C433.8,840.5 433.9,844.3 437.0,846.9 C440.1,849.5 446.2,852.5 449.7,852.5 C453.2,852.5 455.4,848.4 458.2,846.9 C461.0,845.4 464.1,843.2 466.7,843.4 C469.3,843.6 471.8,847.5 473.7,848.3 C475.6,849.1 476.1,847.2 478.0,848.3 C479.9,849.4 483.1,852.2 485.2,855.1 C487.3,858.0 488.2,862.8 490.5,865.5 C492.8,868.2 496.7,871.0 499.2,871.6 C501.7,872.2 503.3,869.1 505.3,869.0 C507.3,868.9 509.5,870.9 511.4,870.8 C513.3,870.7 514.3,869.1 516.6,868.2 C518.9,867.3 522.1,866.5 525.3,865.5 C528.5,864.5 532.9,862.7 535.8,862.1 C538.7,861.5 541.0,861.1 542.8,861.7 C544.5,862.3 544.3,863.4 546.3,865.5 C548.3,867.6 551.8,870.8 555.0,874.3 C558.2,877.8 562.2,882.3 565.4,886.5 C568.6,890.7 571.0,896.8 574.2,899.5 C577.4,902.2 581.1,901.7 584.6,903.0 C588.1,904.3 592.5,907.1 595.1,907.4 C597.7,907.7 597.4,904.4 600.3,904.8 C603.2,905.2 608.7,908.4 612.5,910.0 C616.3,911.6 620.4,914.4 623.0,914.4 C625.6,914.4 625.9,909.4 628.2,910.0 C630.5,910.6 635.5,916.6 636.9,917.9" fill="none" stroke="#00a650" stroke-width="3.0" stroke-linejoin="round"/>
<path d="M837.4,1345.2 C838.1,1346.0 839.8,1348.8 841.8,1349.7 C843.8,1350.6 847.2,1351.8 849.2,1350.4 C851.2,1349.0 851.9,1343.8 853.6,1341.5 C855.3,1339.2 857.5,1336.9 859.5,1336.4 C861.5,1335.9 863.5,1337.9 865.4,1338.6 C867.2,1339.3 868.9,1341.0 870.6,1340.8 C872.3,1340.5 873.9,1338.3 875.8,1337.1 C877.6,1335.9 880.1,1333.8 881.7,1333.4 C883.3,1333.0 883.9,1336.0 885.4,1334.9 C886.9,1333.8 888.9,1328.3 890.5,1326.8 C892.1,1325.3 892.9,1328.2 894.9,1326.0 C896.9,1323.8 900.1,1316.0 902.3,1313.5 C904.5,1311.0 906.5,1312.9 908.2,1311.3 C909.9,1309.7 911.2,1305.1 912.7,1303.9 C914.2,1302.7 915.6,1306.7 917.1,1303.9 C918.6,1301.1 919.8,1291.2 921.5,1286.9 C923.2,1282.6 925.7,1282.0 927.4,1278.1 C929.1,1274.2 930.3,1271.9 931.8,1263.3 C933.3,1254.7 935.1,1238.7 936.3,1226.4 C937.5,1214.1 938.4,1202.2 939.2,1189.5 C940.1,1176.8 940.7,1162.4 941.4,1150.0 C942.1,1137.6 942.9,1123.5 943.5,1115.0 C944.1,1106.5 944.3,1096.9 944.9,1099.2 C945.5,1101.5 946.4,1118.8 946.9,1128.9 C947.4,1139.0 947.5,1147.4 948.1,1160.0 C948.7,1172.6 949.6,1188.1 950.3,1204.3 C951.0,1220.5 951.4,1247.8 952.5,1257.4 C953.6,1267.0 955.5,1258.3 956.9,1261.8 C958.2,1265.2 959.4,1271.9 960.6,1278.1 C961.8,1284.2 962.9,1293.3 964.3,1298.7 C965.6,1304.1 966.9,1307.1 968.7,1310.6 C970.6,1314.0 973.7,1315.5 975.4,1319.4 C977.1,1323.3 977.8,1330.3 979.1,1334.2 C980.5,1338.1 981.8,1343.0 983.5,1343.0 C985.2,1343.0 987.7,1336.7 989.4,1334.2 C991.1,1331.8 992.1,1332.2 993.8,1328.3 C995.5,1324.4 998.1,1317.7 999.7,1310.6 C1001.3,1303.5 1002.3,1293.9 1003.4,1285.5 C1004.5,1277.1 1005.5,1266.8 1006.4,1260.4 C1007.3,1254.0 1007.8,1246.1 1008.6,1247.1 C1009.5,1248.1 1010.5,1259.2 1011.5,1266.3 C1012.5,1273.4 1013.5,1283.3 1014.5,1289.9 C1015.5,1296.5 1016.5,1298.2 1017.5,1306.1 C1018.5,1314.0 1019.6,1328.4 1020.4,1337.1 C1021.2,1345.8 1021.7,1353.9 1022.4,1358.1 C1023.1,1362.3 1023.6,1362.3 1024.8,1362.3 C1026.0,1362.3 1028.0,1361.2 1029.6,1358.1 C1031.2,1355.0 1032.9,1348.0 1034.4,1343.6 C1035.9,1339.2 1037.4,1333.2 1038.6,1331.6 C1039.8,1330.0 1040.5,1332.2 1041.6,1334.0 C1042.7,1335.8 1044.0,1341.6 1045.2,1342.4 C1046.4,1343.2 1047.6,1340.7 1048.8,1338.8 C1050.0,1336.9 1051.4,1331.4 1052.4,1331.0 C1053.4,1330.6 1054.0,1332.9 1054.8,1336.4 C1055.6,1339.9 1056.4,1347.8 1057.2,1352.1 C1058.0,1356.4 1058.6,1361.5 1059.6,1362.3 C1060.6,1363.1 1061.8,1360.4 1063.2,1356.9 C1064.6,1353.4 1066.4,1344.7 1068.0,1341.2 C1069.6,1337.7 1071.4,1338.2 1072.8,1335.8 C1074.2,1333.4 1075.0,1330.6 1076.4,1326.8 C1077.8,1323.0 1079.8,1314.4 1081.2,1313.0 C1082.6,1311.6 1083.8,1317.0 1084.8,1318.4 C1085.8,1319.8 1086.2,1321.1 1087.2,1321.4 C1088.2,1321.7 1089.6,1320.4 1090.8,1320.2 C1092.0,1320.0 1093.2,1318.3 1094.4,1320.2 C1095.6,1322.1 1096.8,1327.9 1098.0,1331.6 C1099.2,1335.3 1100.4,1339.8 1101.6,1342.4 C1102.8,1345.0 1103.8,1345.5 1105.2,1347.3 C1106.6,1349.1 1108.4,1353.1 1110.0,1353.3 C1111.6,1353.5 1113.2,1350.0 1114.8,1348.5 C1116.4,1347.0 1118.3,1344.8 1119.7,1344.2 C1121.1,1343.6 1121.8,1345.6 1123.3,1344.8 C1124.8,1344.0 1127.3,1339.4 1128.7,1339.4 C1130.1,1339.4 1130.4,1341.8 1131.7,1344.8 C1133.0,1347.8 1134.9,1355.7 1136.5,1357.5 C1138.1,1359.3 1139.9,1356.0 1141.3,1355.7 C1142.7,1355.4 1143.3,1356.5 1144.9,1355.7 C1146.5,1354.9 1149.3,1353.3 1150.9,1350.9 C1152.5,1348.5 1153.3,1344.2 1154.5,1341.2 C1155.7,1338.2 1156.7,1333.6 1158.1,1332.8 C1159.5,1332.0 1161.3,1335.4 1162.9,1336.4 C1164.5,1337.4 1165.9,1339.2 1167.7,1338.8 C1169.5,1338.4 1171.9,1335.8 1173.7,1334.0 C1175.5,1332.2 1176.7,1327.7 1178.5,1328.0 C1180.3,1328.3 1183.1,1334.8 1184.8,1335.8 C1186.5,1336.8 1187.2,1334.1 1188.4,1334.0 C1189.6,1333.9 1190.9,1334.9 1192.0,1335.2 C1193.1,1335.5 1193.9,1335.1 1195.0,1335.8 C1196.1,1336.5 1197.1,1339.5 1198.6,1339.4 C1200.1,1339.3 1202.3,1337.1 1204.0,1335.2 C1205.7,1333.3 1207.4,1329.2 1208.8,1328.0 C1210.2,1326.8 1211.2,1328.5 1212.4,1328.0 C1213.6,1327.5 1214.8,1325.8 1216.0,1325.0 C1217.2,1324.2 1218.4,1324.5 1219.6,1323.2 C1220.8,1321.9 1222.0,1318.9 1223.2,1317.2 C1224.4,1315.5 1225.8,1313.2 1226.8,1313.0 C1227.8,1312.8 1228.3,1314.3 1229.2,1316.0 C1230.1,1317.7 1231.0,1323.0 1232.2,1323.2 C1233.4,1323.4 1234.9,1319.3 1236.4,1317.2 C1237.9,1315.1 1239.6,1311.5 1241.2,1310.6 C1242.8,1309.7 1244.7,1312.3 1246.0,1311.8 C1247.3,1311.3 1248.0,1309.7 1249.0,1307.6 C1250.0,1305.5 1251.0,1300.9 1252.0,1299.2 C1253.0,1297.5 1253.8,1297.0 1255.0,1297.4 C1256.2,1297.8 1257.9,1299.5 1259.2,1301.6 C1260.5,1303.7 1261.8,1307.2 1262.8,1310.0 C1263.8,1312.8 1264.2,1316.3 1265.2,1318.4 C1266.2,1320.5 1267.4,1321.0 1268.8,1322.6 C1270.2,1324.2 1272.4,1327.3 1273.6,1328.0 C1274.8,1328.7 1275.2,1326.2 1276.0,1326.8 C1276.8,1327.4 1277.6,1329.5 1278.5,1331.6 C1279.4,1333.7 1280.5,1338.9 1281.5,1339.4 C1282.5,1339.9 1283.4,1335.5 1284.5,1334.6 C1285.6,1333.7 1286.9,1335.1 1288.1,1334.0 C1289.3,1332.9 1290.5,1329.4 1291.7,1328.0 C1292.9,1326.6 1293.9,1325.3 1295.3,1325.6 C1296.7,1325.9 1298.5,1329.3 1300.1,1329.8 C1301.7,1330.3 1303.3,1329.1 1304.9,1328.6 C1306.5,1328.1 1308.1,1326.3 1309.7,1326.8 C1311.3,1327.3 1312.9,1331.3 1314.5,1331.6 C1316.1,1331.9 1317.7,1329.1 1319.3,1328.6 C1320.9,1328.1 1322.1,1329.1 1324.1,1328.6 C1326.1,1328.1 1329.1,1325.4 1331.3,1325.6 C1333.5,1325.8 1335.3,1329.8 1337.3,1329.8 C1339.3,1329.8 1342.3,1326.3 1343.3,1325.6" fill="none" stroke="#000000" stroke-width="2.4" stroke-linejoin="round"/>
<path d="M827.0,1004.8 C827.8,1004.9 830.2,1006.1 832.0,1005.5 C833.8,1004.9 836.1,1001.9 837.6,1001.2 C839.1,1000.5 839.8,1001.9 841.1,1001.2 C842.4,1000.5 843.9,997.5 845.4,997.0 C846.9,996.5 848.3,997.6 850.3,998.4 C852.3,999.2 855.3,1001.8 857.4,1002.0 C859.5,1002.2 861.4,1000.5 863.0,999.8 C864.6,999.1 865.4,997.7 867.3,997.7 C869.2,997.7 872.7,999.2 874.3,999.8 C875.9,1000.4 875.8,1002.4 877.1,1001.2 C878.4,1000.0 880.2,993.4 882.1,992.8 C884.0,992.2 886.2,996.5 888.4,997.7 C890.6,998.9 893.6,999.3 895.5,999.8 C897.4,1000.3 898.3,1001.1 899.7,1000.5 C901.1,999.9 902.6,995.5 904.0,996.3 C905.4,997.1 906.3,1002.5 908.2,1005.5 C910.1,1008.5 913.2,1011.0 915.3,1014.0 C917.4,1017.0 919.0,1021.4 920.9,1023.8 C922.8,1026.1 925.0,1025.5 926.6,1028.1 C928.2,1030.7 929.3,1035.0 930.8,1039.4 C932.3,1043.8 934.0,1048.9 935.5,1054.7 C937.0,1060.5 938.2,1067.4 939.5,1074.5 C940.8,1081.6 942.4,1095.6 943.4,1097.3 C944.4,1099.0 944.7,1090.7 945.4,1084.4 C946.1,1078.1 946.8,1068.8 947.4,1059.7 C948.0,1050.6 948.8,1036.2 949.3,1030.0 C949.8,1023.8 949.7,1028.4 950.6,1022.4 C951.5,1016.4 953.4,1000.1 954.8,994.2 C956.2,988.3 957.7,987.3 959.1,987.1 C960.5,986.9 962.1,990.4 963.3,992.8 C964.5,995.1 964.9,998.6 966.1,1001.2 C967.3,1003.8 968.8,1004.3 970.4,1008.3 C972.0,1012.3 974.4,1023.4 976.0,1025.3 C977.6,1027.2 978.6,1023.6 980.3,1019.6 C981.9,1015.6 983.8,1007.6 985.9,1001.2 C988.0,994.9 990.9,988.1 993.0,981.5 C995.1,974.9 996.8,970.0 998.6,961.7 C1000.4,953.5 1002.2,934.8 1003.6,932.0 C1005.0,929.2 1005.8,937.4 1007.1,944.7 C1008.4,952.0 1010.0,965.2 1011.3,975.8 C1012.6,986.4 1014.0,998.4 1015.0,1008.3 C1016.0,1018.2 1016.3,1028.1 1017.0,1035.0 C1017.7,1041.9 1017.9,1050.8 1019.1,1049.8 C1020.3,1048.8 1022.5,1034.1 1024.1,1029.3 C1025.6,1024.5 1026.8,1023.9 1028.4,1020.8 C1030.1,1017.7 1032.1,1013.0 1034.0,1010.9 C1035.9,1008.8 1037.4,1010.8 1039.7,1008.1 C1042.0,1005.4 1046.0,995.7 1048.1,994.7 C1050.2,993.8 1051.1,998.3 1052.4,1002.4 C1053.7,1006.5 1054.5,1018.7 1055.9,1019.4 C1057.3,1020.1 1059.0,1013.1 1060.8,1006.7 C1062.6,1000.3 1064.4,989.2 1066.5,981.2 C1068.6,973.2 1071.2,965.2 1073.6,958.6 C1075.9,952.0 1078.7,946.6 1080.6,941.7 C1082.5,936.8 1083.7,933.4 1084.9,929.0 C1086.1,924.6 1086.8,915.8 1087.7,915.6 C1088.6,915.4 1089.3,920.2 1090.5,927.6 C1091.7,935.0 1093.3,950.0 1094.7,960.1 C1096.1,970.2 1097.6,982.2 1099.0,988.3 C1100.4,994.4 1101.5,993.7 1103.2,996.8 C1104.9,999.9 1106.8,1006.1 1108.9,1006.7 C1111.0,1007.3 1113.8,1000.9 1115.9,1000.3 C1118.0,999.7 1119.7,1003.5 1121.6,1003.1 C1123.5,1002.8 1125.5,998.3 1127.2,998.2 C1128.9,998.1 1130.1,1000.0 1131.5,1002.4 C1132.9,1004.8 1134.0,1011.0 1135.7,1012.3 C1137.4,1013.6 1139.5,1011.2 1141.4,1010.2 C1143.3,1009.2 1145.4,1007.1 1147.0,1006.0 C1148.6,1004.9 1149.8,1006.0 1151.2,1003.8 C1152.6,1001.5 1153.8,995.7 1155.5,992.5 C1157.2,989.3 1159.2,985.4 1161.1,984.8 C1163.0,984.2 1164.7,987.5 1166.8,989.0 C1168.9,990.5 1171.7,993.9 1173.8,994.0 C1175.9,994.1 1177.6,989.5 1179.5,989.7 C1181.4,989.9 1183.2,994.2 1185.1,995.4 C1187.0,996.6 1189.1,996.5 1190.8,996.8 C1192.5,997.1 1193.2,995.1 1195.0,997.0 C1196.8,998.9 1199.9,1006.8 1201.7,1008.4 C1203.5,1010.0 1203.9,1008.9 1205.7,1006.4 C1207.5,1003.9 1210.2,996.4 1212.4,993.6 C1214.7,990.8 1217.1,991.6 1219.2,989.6 C1221.3,987.6 1223.3,983.2 1225.2,981.6 C1227.1,980.0 1228.9,979.8 1230.6,980.2 C1232.3,980.6 1233.8,984.3 1235.3,984.2 C1236.8,984.1 1237.8,980.3 1239.3,979.5 C1240.8,978.7 1242.2,978.7 1244.0,979.5 C1245.8,980.3 1248.1,983.0 1250.0,984.2 C1251.9,985.4 1253.8,985.4 1255.4,986.9 C1257.0,988.4 1257.8,990.6 1259.4,993.0 C1261.0,995.4 1262.8,999.2 1264.8,1001.0 C1266.8,1002.8 1269.5,1002.6 1271.5,1003.7 C1273.5,1004.8 1275.2,1006.9 1276.8,1007.7 C1278.4,1008.5 1279.3,1007.3 1280.9,1008.4 C1282.5,1009.5 1284.6,1015.0 1286.2,1014.4 C1287.8,1013.8 1288.7,1008.6 1290.3,1005.0 C1291.9,1001.4 1293.8,995.0 1295.6,993.0 C1297.4,991.0 1299.0,992.0 1301.0,993.0 C1303.0,994.0 1305.5,999.4 1307.7,999.0 C1309.9,998.6 1312.2,991.9 1314.4,990.9 C1316.6,989.9 1319.1,992.9 1321.1,993.0 C1323.1,993.1 1324.5,991.4 1326.5,991.6 C1328.5,991.8 1331.0,994.8 1333.2,994.3 C1335.4,993.8 1337.9,989.0 1339.9,988.9 C1341.9,988.8 1343.6,992.7 1345.3,993.6 C1347.0,994.5 1349.2,994.2 1350.0,994.3" fill="none" stroke="#ff0000" stroke-width="2.4" stroke-linejoin="round"/>
<path d="M825.6,905.9 C826.3,906.9 828.0,911.1 829.8,911.6 C831.6,912.1 834.4,909.3 836.2,908.7 C838.0,908.1 839.0,909.0 840.4,908.0 C841.8,907.0 843.3,903.3 844.7,902.4 C846.1,901.5 847.5,902.0 848.9,902.4 C850.3,902.8 851.7,904.1 853.1,904.5 C854.5,904.9 855.8,904.0 857.4,904.5 C859.0,905.0 861.1,906.5 863.0,907.3 C864.9,908.1 867.1,909.5 868.7,909.4 C870.4,909.3 871.7,907.1 872.9,906.6 C874.1,906.1 874.5,907.3 875.7,906.6 C876.9,905.9 878.4,902.0 880.0,902.4 C881.6,902.8 883.7,907.2 885.6,908.7 C887.5,910.2 889.2,910.8 891.3,911.6 C893.4,912.4 896.3,913.6 898.3,913.7 C900.3,913.8 901.6,911.4 903.3,912.3 C904.9,913.2 906.4,917.5 908.2,919.3 C910.0,921.1 912.0,921.2 913.9,922.9 C915.8,924.5 917.9,926.5 919.5,929.2 C921.1,931.9 922.4,936.0 923.8,939.1 C925.2,942.2 926.6,943.1 928.0,947.6 C929.4,952.1 930.8,959.3 932.2,965.9 C933.6,972.5 935.3,980.3 936.5,987.1 C937.7,993.9 938.5,1000.3 939.3,1006.9 C940.1,1013.5 940.7,1021.8 941.4,1026.7 C942.1,1031.7 942.8,1037.3 943.5,1036.6 C944.2,1035.9 944.8,1029.5 945.6,1022.4 C946.4,1015.3 947.4,1002.9 948.5,994.2 C949.6,985.5 950.7,975.9 952.0,970.2 C953.3,964.6 954.8,962.4 956.2,960.3 C957.6,958.2 959.3,958.9 960.5,957.5 C961.7,956.1 962.1,953.2 963.3,951.8 C964.5,950.4 966.3,950.0 967.5,949.0 C968.7,948.0 969.1,945.4 970.4,945.5 C971.7,945.6 973.9,949.8 975.3,949.7 C976.7,949.6 977.3,949.1 978.8,944.7 C980.3,940.4 982.6,928.8 984.5,923.6 C986.4,918.4 988.5,916.5 990.1,913.7 C991.8,910.9 993.0,908.6 994.4,906.6 C995.8,904.6 997.4,903.8 998.6,901.7 C999.8,899.6 1000.3,897.7 1001.4,893.9 C1002.5,890.1 1003.8,880.0 1005.0,879.1 C1006.2,878.2 1007.5,883.4 1008.5,888.2 C1009.5,893.0 1010.3,903.5 1011.3,908.0 C1012.2,912.5 1013.2,911.4 1014.2,914.9 C1015.2,918.4 1016.0,923.4 1017.1,929.0 C1018.2,934.6 1019.4,946.7 1020.6,948.8 C1021.8,950.9 1022.8,944.3 1024.1,941.7 C1025.4,939.1 1026.3,936.2 1028.4,933.2 C1030.5,930.2 1034.5,925.0 1036.8,924.0 C1039.1,923.0 1040.4,927.9 1042.5,926.9 C1044.6,925.9 1047.8,918.5 1049.5,917.7 C1051.2,916.9 1051.2,918.6 1052.4,921.9 C1053.6,925.2 1055.2,936.5 1056.6,937.5 C1058.0,938.5 1059.1,931.4 1060.8,927.6 C1062.5,923.8 1064.8,917.7 1066.5,914.9 C1068.2,912.1 1069.3,912.7 1070.7,910.6 C1072.1,908.5 1073.6,904.5 1075.0,902.1 C1076.4,899.8 1077.8,900.0 1079.2,896.5 C1080.6,893.0 1082.4,886.0 1083.4,881.0 C1084.4,876.0 1084.8,871.8 1085.4,866.6 C1086.0,861.4 1086.4,855.6 1087.0,850.0 C1087.6,844.4 1088.3,837.1 1089.0,833.0 C1089.7,828.9 1090.3,825.8 1091.0,825.6 C1091.7,825.4 1092.3,828.7 1093.0,832.0 C1093.7,835.3 1094.5,840.3 1095.3,845.4 C1096.1,850.5 1096.8,855.3 1097.6,862.6 C1098.4,869.9 1099.2,882.3 1100.4,889.4 C1101.6,896.5 1103.1,900.9 1104.6,905.0 C1106.1,909.1 1107.9,914.2 1109.6,914.2 C1111.2,914.2 1113.0,907.6 1114.5,905.0 C1116.0,902.4 1117.4,899.6 1118.8,898.6 C1120.2,897.6 1121.6,900.1 1123.0,899.3 C1124.4,898.5 1125.8,894.8 1127.2,893.7 C1128.6,892.7 1129.8,891.5 1131.5,893.0 C1133.2,894.5 1135.4,901.4 1137.1,902.9 C1138.8,904.4 1139.8,901.8 1141.4,902.1 C1143.1,902.5 1145.1,904.4 1147.0,905.0 C1148.9,905.6 1151.0,906.9 1152.7,905.7 C1154.4,904.5 1155.5,901.0 1156.9,897.9 C1158.3,894.8 1159.2,889.3 1161.1,887.3 C1163.0,885.3 1166.5,885.9 1168.2,885.9 C1169.9,885.9 1169.8,887.4 1171.0,887.3 C1172.2,887.2 1174.1,885.8 1175.3,885.2 C1176.5,884.6 1176.9,885.1 1178.1,883.8 C1179.3,882.5 1180.9,878.1 1182.3,877.4 C1183.7,876.7 1184.9,880.0 1186.6,879.5 C1188.2,879.0 1190.3,875.0 1192.2,874.6 C1194.1,874.2 1196.8,876.6 1197.9,877.4 C1199.0,878.2 1197.7,877.5 1199.0,879.6 C1200.3,881.8 1203.0,889.5 1205.7,890.3 C1208.4,891.1 1212.8,885.2 1215.1,884.3 C1217.3,883.4 1217.8,885.6 1219.2,885.0 C1220.6,884.4 1221.7,882.9 1223.2,880.9 C1224.8,878.9 1226.5,874.5 1228.5,872.9 C1230.5,871.3 1233.7,871.6 1235.3,871.5 C1236.9,871.4 1236.8,873.1 1237.9,872.2 C1239.0,871.3 1240.4,868.1 1242.0,866.2 C1243.6,864.3 1245.5,860.4 1247.3,860.8 C1249.1,861.2 1250.9,867.0 1252.7,868.8 C1254.5,870.6 1256.5,869.8 1258.1,871.5 C1259.7,873.2 1260.8,876.4 1262.1,878.9 C1263.4,881.4 1264.3,884.3 1266.1,886.3 C1267.9,888.3 1271.0,889.9 1272.8,891.0 C1274.6,892.1 1275.4,891.9 1276.8,893.0 C1278.2,894.1 1279.7,897.2 1280.9,897.7 C1282.1,898.2 1282.9,895.2 1284.2,895.7 C1285.5,896.2 1287.7,901.1 1288.9,901.0 C1290.1,900.9 1290.2,896.9 1291.6,895.0 C1292.9,893.1 1295.4,892.0 1297.0,889.6 C1298.6,887.2 1299.7,882.7 1301.0,880.9 C1302.3,879.1 1303.7,878.7 1305.0,878.9 C1306.3,879.1 1307.4,881.4 1309.0,882.3 C1310.6,883.2 1312.6,884.4 1314.4,884.3 C1316.2,884.2 1318.0,881.7 1319.8,881.6 C1321.6,881.5 1323.5,883.8 1325.1,883.6 C1326.7,883.4 1327.8,881.6 1329.2,880.3 C1330.6,879.0 1331.9,876.3 1333.2,875.6 C1334.5,874.9 1335.6,876.7 1337.2,876.2 C1338.8,875.8 1340.6,872.5 1342.6,872.9 C1344.6,873.3 1347.4,878.4 1349.3,878.9 C1351.2,879.4 1353.2,876.1 1354.0,875.6" fill="none" stroke="#0000ff" stroke-width="2.4" stroke-linejoin="round"/>
<path d="M819.9,801.6 C820.6,803.0 822.7,808.5 824.1,810.1 C825.5,811.8 826.8,810.6 828.4,811.5 C830.0,812.4 832.4,815.9 834.0,815.7 C835.6,815.5 836.6,812.0 838.2,810.1 C839.9,808.2 842.2,805.1 843.9,804.4 C845.5,803.7 846.7,805.7 848.1,805.8 C849.5,805.9 850.8,804.5 852.4,805.1 C854.0,805.7 856.1,808.3 858.0,809.4 C859.9,810.5 862.1,812.1 863.7,811.5 C865.4,810.9 866.5,807.0 867.9,805.8 C869.3,804.6 870.5,805.3 872.1,804.4 C873.8,803.5 875.9,800.4 877.8,800.2 C879.7,800.0 881.5,801.4 883.4,803.0 C885.3,804.6 887.2,807.8 889.1,810.1 C891.0,812.5 893.1,816.2 894.7,817.1 C896.4,818.0 897.4,814.3 899.0,815.7 C900.6,817.1 902.5,823.7 904.6,825.6 C906.7,827.5 909.8,826.3 911.7,827.0 C913.6,827.7 914.5,829.3 915.9,829.8 C917.3,830.3 918.6,828.4 920.2,829.8 C921.9,831.2 923.9,834.5 925.8,838.3 C927.7,842.1 929.9,847.0 931.5,852.4 C933.1,857.8 934.5,863.7 935.7,870.8 C936.9,877.9 937.7,887.4 938.5,895.0 C939.3,902.6 940.0,915.7 940.7,916.5 C941.4,917.3 942.2,905.2 942.8,900.0 C943.4,894.8 943.4,891.8 944.2,885.0 C945.0,878.2 946.5,867.0 947.7,859.5 C948.9,852.0 949.9,845.4 951.2,839.7 C952.5,834.1 953.9,829.0 955.5,825.6 C957.1,822.2 959.5,819.9 961.1,819.2 C962.8,818.5 964.1,821.4 965.4,821.4 C966.7,821.4 967.7,817.6 968.9,819.2 C970.1,820.8 971.3,828.0 972.4,831.2 C973.5,834.4 974.1,838.5 975.3,838.3 C976.5,838.1 977.9,834.5 979.5,829.8 C981.1,825.1 983.2,816.9 985.1,810.1 C987.0,803.3 988.9,797.6 990.8,788.9 C992.7,780.2 995.0,766.5 996.4,757.8 C997.8,749.1 998.1,744.1 999.2,736.6 C1000.3,729.1 1001.6,714.5 1002.8,712.6 C1004.0,710.7 1005.2,718.5 1006.3,725.3 C1007.3,732.1 1008.2,744.2 1009.1,753.6 C1010.0,763.0 1011.0,772.4 1011.9,781.8 C1012.8,791.2 1013.8,800.7 1014.8,810.1 C1015.8,819.5 1016.7,829.8 1017.6,838.3 C1018.5,846.8 1019.2,859.0 1020.4,860.9 C1021.6,862.8 1023.3,853.8 1024.7,849.6 C1026.1,845.4 1027.5,839.3 1028.9,835.5 C1030.3,831.7 1031.7,830.0 1033.1,827.0 C1034.5,824.0 1036.0,819.2 1037.4,817.8 C1038.8,816.4 1040.2,819.8 1041.6,818.5 C1043.0,817.2 1044.4,813.4 1045.8,810.1 C1047.2,806.8 1048.8,799.3 1050.1,798.8 C1051.4,798.3 1052.2,800.9 1053.6,807.2 C1055.0,813.6 1056.8,833.8 1058.6,836.9 C1060.4,840.0 1062.3,829.1 1064.2,825.6 C1066.1,822.1 1068.0,818.8 1069.9,815.7 C1071.8,812.6 1073.9,809.6 1075.5,807.2 C1077.1,804.9 1078.3,802.1 1079.7,801.6 C1081.1,801.1 1082.6,802.9 1084.0,804.4 C1085.4,805.9 1086.8,810.1 1088.2,810.8 C1089.6,811.5 1090.8,809.1 1092.5,808.6 C1094.2,808.1 1096.2,806.5 1098.1,807.9 C1100.0,809.3 1101.9,815.1 1103.8,817.1 C1105.7,819.1 1107.6,818.6 1109.4,819.9 C1111.2,821.2 1112.8,825.6 1114.4,824.9 C1116.1,824.2 1117.8,818.1 1119.3,815.7 C1120.8,813.4 1121.8,811.4 1123.5,810.8 C1125.2,810.2 1127.5,812.1 1129.2,812.2 C1130.9,812.3 1132.0,810.2 1133.4,811.5 C1134.8,812.8 1136.4,817.4 1137.7,819.9 C1139.0,822.4 1139.7,825.8 1141.2,826.3 C1142.7,826.8 1145.0,822.9 1146.8,822.8 C1148.6,822.7 1150.0,825.8 1151.8,825.6 C1153.6,825.4 1155.9,823.3 1157.4,821.4 C1158.9,819.5 1159.8,816.7 1161.0,814.3 C1162.2,811.9 1163.0,808.6 1164.5,807.2 C1166.0,805.8 1168.2,806.6 1170.1,805.8 C1172.0,805.0 1174.1,803.7 1175.8,802.3 C1177.5,800.9 1178.6,798.6 1180.0,797.3 C1181.4,796.0 1183.1,795.7 1184.3,794.5 C1185.5,793.3 1185.7,789.4 1187.1,790.3 C1188.5,791.2 1191.1,798.7 1192.7,799.8 C1194.3,800.9 1195.2,797.0 1196.9,797.0 C1198.6,797.0 1201.2,799.3 1202.6,799.8 C1204.0,800.3 1203.8,797.7 1205.4,799.8 C1207.1,801.9 1210.6,810.9 1212.5,812.5 C1214.4,814.1 1215.0,812.3 1216.7,809.7 C1218.4,807.1 1220.8,799.9 1222.4,797.0 C1224.1,794.1 1225.2,792.3 1226.6,792.1 C1228.0,791.9 1229.1,796.4 1230.8,795.6 C1232.5,794.8 1234.8,788.9 1236.5,787.1 C1238.2,785.3 1239.3,784.6 1240.7,785.0 C1242.1,785.4 1243.3,789.1 1245.0,789.2 C1246.7,789.3 1248.7,786.9 1250.6,785.7 C1252.5,784.5 1254.9,782.0 1256.3,781.8 C1257.7,781.6 1257.9,783.3 1259.1,784.3 C1260.3,785.3 1261.9,787.3 1263.3,787.8 C1264.7,788.3 1266.2,785.3 1267.6,787.1 C1269.0,788.9 1270.4,795.6 1271.8,798.4 C1273.2,801.2 1274.1,802.7 1276.0,804.1 C1277.9,805.5 1280.7,806.4 1283.1,806.9 C1285.5,807.4 1288.5,806.8 1290.2,806.9 C1291.9,807.0 1291.6,805.7 1293.0,807.6 C1294.4,809.5 1296.9,818.6 1298.6,818.2 C1300.2,817.9 1301.5,808.6 1302.9,805.5 C1304.3,802.4 1305.4,801.9 1307.1,799.8 C1308.8,797.7 1311.1,793.7 1312.8,792.8 C1314.5,791.9 1315.6,793.2 1317.0,794.2 C1318.4,795.2 1319.3,798.5 1321.2,799.1 C1323.1,799.7 1325.7,796.9 1328.3,797.7 C1330.9,798.5 1334.2,803.9 1336.8,804.1 C1339.4,804.3 1341.7,799.7 1343.8,799.1 C1345.9,798.5 1347.4,802.1 1349.5,800.5 C1351.6,798.9 1354.7,790.0 1356.6,789.2 C1358.5,788.4 1359.3,794.8 1360.8,795.6 C1362.3,796.4 1364.9,794.4 1365.7,794.2" fill="none" stroke="#00a650" stroke-width="2.4" stroke-linejoin="round"/></svg></body></html>
